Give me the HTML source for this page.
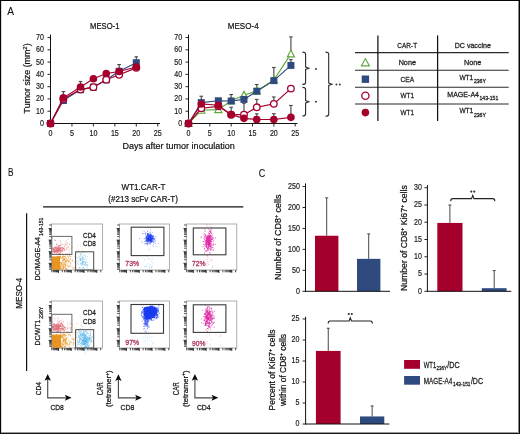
<!DOCTYPE html>
<html><head><meta charset="utf-8"><style>
html,body{margin:0;padding:0;background:#fff;}
svg{display:block;font-family:"Liberation Sans", sans-serif;will-change:transform;}
</style></head><body>
<svg width="520" height="434" viewBox="0 0 520 434">
<rect width="520" height="434" fill="#fff"/>
<g shape-rendering="crispEdges"><rect x="1" y="0" width="1" height="434" fill="#d8d8d8"/><rect x="518" y="0" width="1" height="434" fill="#8a8a8a"/><rect x="0" y="432" width="520" height="1" fill="#9a9a9a"/><rect x="0" y="0" width="520" height="1" fill="#050505"/><rect x="0" y="0" width="1" height="434" fill="#050505"/><rect x="519" y="0" width="1" height="434" fill="#050505"/><rect x="0" y="433" width="520" height="1" fill="#151515"/></g>
<text x="7.3" y="15.2" font-size="11" text-anchor="start" fill="#111" textLength="6.8" lengthAdjust="spacingAndGlyphs" stroke="#111" stroke-width="0.1">A</text>
<line x1="50.5" y1="34.6" x2="50.5" y2="124.0" stroke="#111" stroke-width="1"/>
<line x1="50.0" y1="123.5" x2="160" y2="123.5" stroke="#111" stroke-width="1"/>
<line x1="47.5" y1="123.5" x2="50.5" y2="123.5" stroke="#111" stroke-width="0.9"/>
<text x="44.0" y="125.9" font-size="8.6" text-anchor="end" fill="#222" textLength="3.95" lengthAdjust="spacingAndGlyphs" stroke="#222" stroke-width="0.2">0</text>
<line x1="47.5" y1="111.22" x2="50.5" y2="111.22" stroke="#111" stroke-width="0.9"/>
<text x="44.0" y="113.62" font-size="8.6" text-anchor="end" fill="#222" textLength="7.9" lengthAdjust="spacingAndGlyphs" stroke="#222" stroke-width="0.2">10</text>
<line x1="47.5" y1="98.94" x2="50.5" y2="98.94" stroke="#111" stroke-width="0.9"/>
<text x="44.0" y="101.34" font-size="8.6" text-anchor="end" fill="#222" textLength="7.9" lengthAdjust="spacingAndGlyphs" stroke="#222" stroke-width="0.2">20</text>
<line x1="47.5" y1="86.66" x2="50.5" y2="86.66" stroke="#111" stroke-width="0.9"/>
<text x="44.0" y="89.06" font-size="8.6" text-anchor="end" fill="#222" textLength="7.9" lengthAdjust="spacingAndGlyphs" stroke="#222" stroke-width="0.2">30</text>
<line x1="47.5" y1="74.38" x2="50.5" y2="74.38" stroke="#111" stroke-width="0.9"/>
<text x="44.0" y="76.78" font-size="8.6" text-anchor="end" fill="#222" textLength="7.9" lengthAdjust="spacingAndGlyphs" stroke="#222" stroke-width="0.2">40</text>
<line x1="47.5" y1="62.1" x2="50.5" y2="62.1" stroke="#111" stroke-width="0.9"/>
<text x="44.0" y="64.5" font-size="8.6" text-anchor="end" fill="#222" textLength="7.9" lengthAdjust="spacingAndGlyphs" stroke="#222" stroke-width="0.2">50</text>
<line x1="47.5" y1="49.82000000000001" x2="50.5" y2="49.82000000000001" stroke="#111" stroke-width="0.9"/>
<text x="44.0" y="52.220000000000006" font-size="8.6" text-anchor="end" fill="#222" textLength="7.9" lengthAdjust="spacingAndGlyphs" stroke="#222" stroke-width="0.2">60</text>
<line x1="47.5" y1="37.540000000000006" x2="50.5" y2="37.540000000000006" stroke="#111" stroke-width="0.9"/>
<text x="44.0" y="39.940000000000005" font-size="8.6" text-anchor="end" fill="#222" textLength="7.9" lengthAdjust="spacingAndGlyphs" stroke="#222" stroke-width="0.2">70</text>
<line x1="50.5" y1="123.5" x2="50.5" y2="126.5" stroke="#111" stroke-width="0.9"/>
<text x="50.5" y="136.4" font-size="8.6" text-anchor="middle" fill="#222" textLength="3.95" lengthAdjust="spacingAndGlyphs" stroke="#222" stroke-width="0.2">0</text>
<line x1="71.95" y1="123.5" x2="71.95" y2="126.5" stroke="#111" stroke-width="0.9"/>
<text x="71.95" y="136.4" font-size="8.6" text-anchor="middle" fill="#222" textLength="3.95" lengthAdjust="spacingAndGlyphs" stroke="#222" stroke-width="0.2">5</text>
<line x1="93.4" y1="123.5" x2="93.4" y2="126.5" stroke="#111" stroke-width="0.9"/>
<text x="93.4" y="136.4" font-size="8.6" text-anchor="middle" fill="#222" textLength="7.9" lengthAdjust="spacingAndGlyphs" stroke="#222" stroke-width="0.2">10</text>
<line x1="114.85" y1="123.5" x2="114.85" y2="126.5" stroke="#111" stroke-width="0.9"/>
<text x="114.85" y="136.4" font-size="8.6" text-anchor="middle" fill="#222" textLength="7.9" lengthAdjust="spacingAndGlyphs" stroke="#222" stroke-width="0.2">15</text>
<line x1="136.3" y1="123.5" x2="136.3" y2="126.5" stroke="#111" stroke-width="0.9"/>
<text x="136.3" y="136.4" font-size="8.6" text-anchor="middle" fill="#222" textLength="7.9" lengthAdjust="spacingAndGlyphs" stroke="#222" stroke-width="0.2">20</text>
<line x1="157.75" y1="123.5" x2="157.75" y2="126.5" stroke="#111" stroke-width="0.9"/>
<text x="157.75" y="136.4" font-size="8.6" text-anchor="middle" fill="#222" textLength="7.9" lengthAdjust="spacingAndGlyphs" stroke="#222" stroke-width="0.2">25</text>
<text x="104.75" y="28.7" font-size="8.6" text-anchor="middle" fill="#111" textLength="29.3" lengthAdjust="spacingAndGlyphs" stroke="#111" stroke-width="0.2">MESO-1</text>
<line x1="63.370000000000005" y1="98.94" x2="63.370000000000005" y2="91.572" stroke="#4a4a4a" stroke-width="1.15"/>
<line x1="61.57000000000001" y1="91.572" x2="65.17" y2="91.572" stroke="#4a4a4a" stroke-width="1.15"/>
<line x1="80.53" y1="87.888" x2="80.53" y2="81.5024" stroke="#4a4a4a" stroke-width="1.15"/>
<line x1="78.73" y1="81.5024" x2="82.33" y2="81.5024" stroke="#4a4a4a" stroke-width="1.15"/>
<line x1="119.14" y1="71.924" x2="119.14" y2="64.556" stroke="#4a4a4a" stroke-width="1.15"/>
<line x1="117.34" y1="64.556" x2="120.94" y2="64.556" stroke="#4a4a4a" stroke-width="1.15"/>
<line x1="136.3" y1="64.556" x2="136.3" y2="56.81960000000001" stroke="#4a4a4a" stroke-width="1.15"/>
<line x1="134.5" y1="56.81960000000001" x2="138.10000000000002" y2="56.81960000000001" stroke="#4a4a4a" stroke-width="1.15"/>
<polyline points="50.50,123.50 63.37,100.54 80.53,89.61 93.40,87.15 106.27,79.78 119.14,71.31 136.30,62.71" fill="none" stroke="#2e4a7f" stroke-width="1.15"/>
<rect x="47.00" y="120.00" width="7" height="7" fill="#2e4a7f"/>
<rect x="59.87" y="97.04" width="7" height="7" fill="#2e4a7f"/>
<rect x="77.03" y="86.11" width="7" height="7" fill="#2e4a7f"/>
<rect x="89.90" y="83.65" width="7" height="7" fill="#2e4a7f"/>
<rect x="102.77" y="76.28" width="7" height="7" fill="#2e4a7f"/>
<rect x="115.64" y="67.81" width="7" height="7" fill="#2e4a7f"/>
<rect x="132.80" y="59.21" width="7" height="7" fill="#2e4a7f"/>
<polyline points="50.50,123.50 63.37,98.94 80.53,89.61 93.40,87.15 106.27,79.66 119.14,74.75 136.30,67.87" fill="none" stroke="#a5002c" stroke-width="1.15"/>
<circle cx="50.50" cy="123.50" r="3.3" fill="#fff" stroke="#a5002c" stroke-width="1.3"/>
<circle cx="63.37" cy="98.94" r="3.3" fill="#fff" stroke="#a5002c" stroke-width="1.3"/>
<circle cx="80.53" cy="89.61" r="3.3" fill="#fff" stroke="#a5002c" stroke-width="1.3"/>
<circle cx="93.40" cy="87.15" r="3.3" fill="#fff" stroke="#a5002c" stroke-width="1.3"/>
<circle cx="106.27" cy="79.66" r="3.3" fill="#fff" stroke="#a5002c" stroke-width="1.3"/>
<circle cx="119.14" cy="74.75" r="3.3" fill="#fff" stroke="#a5002c" stroke-width="1.3"/>
<circle cx="136.30" cy="67.87" r="3.3" fill="#fff" stroke="#a5002c" stroke-width="1.3"/>
<polyline points="50.50,123.50 63.37,97.83 80.53,87.03 93.40,78.80 106.27,73.52 119.14,71.56 136.30,67.01" fill="none" stroke="#a5002c" stroke-width="1.15"/>
<circle cx="50.50" cy="123.50" r="3.8" fill="#a5002c"/>
<circle cx="63.37" cy="97.83" r="3.8" fill="#a5002c"/>
<circle cx="80.53" cy="87.03" r="3.8" fill="#a5002c"/>
<circle cx="93.40" cy="78.80" r="3.8" fill="#a5002c"/>
<circle cx="106.27" cy="73.52" r="3.8" fill="#a5002c"/>
<circle cx="119.14" cy="71.56" r="3.8" fill="#a5002c"/>
<circle cx="136.30" cy="67.01" r="3.8" fill="#a5002c"/>
<line x1="188.5" y1="34.6" x2="188.5" y2="124.0" stroke="#111" stroke-width="1"/>
<line x1="188.0" y1="123.5" x2="297.5" y2="123.5" stroke="#111" stroke-width="1"/>
<line x1="185.5" y1="123.5" x2="188.5" y2="123.5" stroke="#111" stroke-width="0.9"/>
<text x="182.1" y="125.9" font-size="8.6" text-anchor="end" fill="#222" textLength="3.95" lengthAdjust="spacingAndGlyphs" stroke="#222" stroke-width="0.2">0</text>
<line x1="185.5" y1="111.22" x2="188.5" y2="111.22" stroke="#111" stroke-width="0.9"/>
<text x="182.1" y="113.62" font-size="8.6" text-anchor="end" fill="#222" textLength="7.9" lengthAdjust="spacingAndGlyphs" stroke="#222" stroke-width="0.2">10</text>
<line x1="185.5" y1="98.94" x2="188.5" y2="98.94" stroke="#111" stroke-width="0.9"/>
<text x="182.1" y="101.34" font-size="8.6" text-anchor="end" fill="#222" textLength="7.9" lengthAdjust="spacingAndGlyphs" stroke="#222" stroke-width="0.2">20</text>
<line x1="185.5" y1="86.66" x2="188.5" y2="86.66" stroke="#111" stroke-width="0.9"/>
<text x="182.1" y="89.06" font-size="8.6" text-anchor="end" fill="#222" textLength="7.9" lengthAdjust="spacingAndGlyphs" stroke="#222" stroke-width="0.2">30</text>
<line x1="185.5" y1="74.38" x2="188.5" y2="74.38" stroke="#111" stroke-width="0.9"/>
<text x="182.1" y="76.78" font-size="8.6" text-anchor="end" fill="#222" textLength="7.9" lengthAdjust="spacingAndGlyphs" stroke="#222" stroke-width="0.2">40</text>
<line x1="185.5" y1="62.1" x2="188.5" y2="62.1" stroke="#111" stroke-width="0.9"/>
<text x="182.1" y="64.5" font-size="8.6" text-anchor="end" fill="#222" textLength="7.9" lengthAdjust="spacingAndGlyphs" stroke="#222" stroke-width="0.2">50</text>
<line x1="185.5" y1="49.82000000000001" x2="188.5" y2="49.82000000000001" stroke="#111" stroke-width="0.9"/>
<text x="182.1" y="52.220000000000006" font-size="8.6" text-anchor="end" fill="#222" textLength="7.9" lengthAdjust="spacingAndGlyphs" stroke="#222" stroke-width="0.2">60</text>
<line x1="185.5" y1="37.540000000000006" x2="188.5" y2="37.540000000000006" stroke="#111" stroke-width="0.9"/>
<text x="182.1" y="39.940000000000005" font-size="8.6" text-anchor="end" fill="#222" textLength="7.9" lengthAdjust="spacingAndGlyphs" stroke="#222" stroke-width="0.2">70</text>
<line x1="188.5" y1="123.5" x2="188.5" y2="126.5" stroke="#111" stroke-width="0.9"/>
<text x="188.5" y="136.4" font-size="8.6" text-anchor="middle" fill="#222" textLength="3.95" lengthAdjust="spacingAndGlyphs" stroke="#222" stroke-width="0.2">0</text>
<line x1="209.835" y1="123.5" x2="209.835" y2="126.5" stroke="#111" stroke-width="0.9"/>
<text x="209.835" y="136.4" font-size="8.6" text-anchor="middle" fill="#222" textLength="3.95" lengthAdjust="spacingAndGlyphs" stroke="#222" stroke-width="0.2">5</text>
<line x1="231.17000000000002" y1="123.5" x2="231.17000000000002" y2="126.5" stroke="#111" stroke-width="0.9"/>
<text x="231.17000000000002" y="136.4" font-size="8.6" text-anchor="middle" fill="#222" textLength="7.9" lengthAdjust="spacingAndGlyphs" stroke="#222" stroke-width="0.2">10</text>
<line x1="252.505" y1="123.5" x2="252.505" y2="126.5" stroke="#111" stroke-width="0.9"/>
<text x="252.505" y="136.4" font-size="8.6" text-anchor="middle" fill="#222" textLength="7.9" lengthAdjust="spacingAndGlyphs" stroke="#222" stroke-width="0.2">15</text>
<line x1="273.84000000000003" y1="123.5" x2="273.84000000000003" y2="126.5" stroke="#111" stroke-width="0.9"/>
<text x="273.84000000000003" y="136.4" font-size="8.6" text-anchor="middle" fill="#222" textLength="7.9" lengthAdjust="spacingAndGlyphs" stroke="#222" stroke-width="0.2">20</text>
<line x1="295.175" y1="123.5" x2="295.175" y2="126.5" stroke="#111" stroke-width="0.9"/>
<text x="295.175" y="136.4" font-size="8.6" text-anchor="middle" fill="#222" textLength="7.9" lengthAdjust="spacingAndGlyphs" stroke="#222" stroke-width="0.2">25</text>
<text x="243.2" y="28.7" font-size="8.6" text-anchor="middle" fill="#111" textLength="30.8" lengthAdjust="spacingAndGlyphs" stroke="#111" stroke-width="0.2">MESO-4</text>
<line x1="201.301" y1="102.624" x2="201.301" y2="96.2384" stroke="#4a4a4a" stroke-width="1.15"/>
<line x1="199.50099999999998" y1="96.2384" x2="203.101" y2="96.2384" stroke="#4a4a4a" stroke-width="1.15"/>
<line x1="231.17000000000002" y1="101.0276" x2="231.17000000000002" y2="94.5192" stroke="#4a4a4a" stroke-width="1.15"/>
<line x1="229.37" y1="94.5192" x2="232.97000000000003" y2="94.5192" stroke="#4a4a4a" stroke-width="1.15"/>
<line x1="231.17000000000002" y1="114.6584" x2="231.17000000000002" y2="107.2904" stroke="#4a4a4a" stroke-width="1.15"/>
<line x1="229.37" y1="107.2904" x2="232.97000000000003" y2="107.2904" stroke="#4a4a4a" stroke-width="1.15"/>
<line x1="243.971" y1="114.6584" x2="243.971" y2="103.238" stroke="#4a4a4a" stroke-width="1.15"/>
<line x1="242.171" y1="103.238" x2="245.77100000000002" y2="103.238" stroke="#4a4a4a" stroke-width="1.15"/>
<line x1="256.772" y1="91.2036" x2="256.772" y2="84.5724" stroke="#4a4a4a" stroke-width="1.15"/>
<line x1="254.97199999999998" y1="84.5724" x2="258.572" y2="84.5724" stroke="#4a4a4a" stroke-width="1.15"/>
<line x1="256.772" y1="107.2904" x2="256.772" y2="99.43119999999999" stroke="#4a4a4a" stroke-width="1.15"/>
<line x1="254.97199999999998" y1="99.43119999999999" x2="258.572" y2="99.43119999999999" stroke="#4a4a4a" stroke-width="1.15"/>
<line x1="256.772" y1="119.4476" x2="256.772" y2="113.7988" stroke="#4a4a4a" stroke-width="1.15"/>
<line x1="254.97199999999998" y1="113.7988" x2="258.572" y2="113.7988" stroke="#4a4a4a" stroke-width="1.15"/>
<line x1="273.84000000000003" y1="80.52000000000001" x2="273.84000000000003" y2="67.50319999999999" stroke="#4a4a4a" stroke-width="1.15"/>
<line x1="272.04" y1="67.50319999999999" x2="275.64000000000004" y2="67.50319999999999" stroke="#4a4a4a" stroke-width="1.15"/>
<line x1="273.84000000000003" y1="103.852" x2="273.84000000000003" y2="96.9752" stroke="#4a4a4a" stroke-width="1.15"/>
<line x1="272.04" y1="96.9752" x2="275.64000000000004" y2="96.9752" stroke="#4a4a4a" stroke-width="1.15"/>
<line x1="273.84000000000003" y1="119.4476" x2="273.84000000000003" y2="113.676" stroke="#4a4a4a" stroke-width="1.15"/>
<line x1="272.04" y1="113.676" x2="275.64000000000004" y2="113.676" stroke="#4a4a4a" stroke-width="1.15"/>
<line x1="290.908" y1="53.8724" x2="290.908" y2="36.926" stroke="#4a4a4a" stroke-width="1.15"/>
<line x1="289.108" y1="36.926" x2="292.708" y2="36.926" stroke="#4a4a4a" stroke-width="1.15"/>
<line x1="290.908" y1="65.17" x2="290.908" y2="59.644" stroke="#4a4a4a" stroke-width="1.15"/>
<line x1="289.108" y1="59.644" x2="292.708" y2="59.644" stroke="#4a4a4a" stroke-width="1.15"/>
<line x1="290.908" y1="117.36" x2="290.908" y2="105.44839999999999" stroke="#4a4a4a" stroke-width="1.15"/>
<line x1="289.108" y1="105.44839999999999" x2="292.708" y2="105.44839999999999" stroke="#4a4a4a" stroke-width="1.15"/>
<polyline points="188.50,123.50 201.30,110.24 218.37,109.62 231.17,100.78 243.97,95.26 256.77,90.96 273.84,80.03 290.91,53.87" fill="none" stroke="#5fa83a" stroke-width="1.15"/>
<polygon points="188.50,119.60 192.10,126.50 184.90,126.50" fill="#fff" stroke="#5fa83a" stroke-width="1.15"/>
<polygon points="201.30,106.34 204.90,113.24 197.70,113.24" fill="#fff" stroke="#5fa83a" stroke-width="1.15"/>
<polygon points="218.37,105.72 221.97,112.62 214.77,112.62" fill="#fff" stroke="#5fa83a" stroke-width="1.15"/>
<polygon points="231.17,96.88 234.77,103.78 227.57,103.78" fill="#fff" stroke="#5fa83a" stroke-width="1.15"/>
<polygon points="243.97,91.36 247.57,98.26 240.37,98.26" fill="#fff" stroke="#5fa83a" stroke-width="1.15"/>
<polygon points="256.77,87.06 260.37,93.96 253.17,93.96" fill="#fff" stroke="#5fa83a" stroke-width="1.15"/>
<polygon points="273.84,76.13 277.44,83.03 270.24,83.03" fill="#fff" stroke="#5fa83a" stroke-width="1.15"/>
<polygon points="290.91,49.97 294.51,56.87 287.31,56.87" fill="#fff" stroke="#5fa83a" stroke-width="1.15"/>
<polyline points="188.50,123.50 201.30,102.62 218.37,100.78 231.17,101.03 243.97,99.43 256.77,91.20 273.84,80.64 290.91,65.42" fill="none" stroke="#2e4a7f" stroke-width="1.15"/>
<rect x="185.00" y="120.00" width="7" height="7" fill="#2e4a7f"/>
<rect x="197.80" y="99.12" width="7" height="7" fill="#2e4a7f"/>
<rect x="214.87" y="97.28" width="7" height="7" fill="#2e4a7f"/>
<rect x="227.67" y="97.53" width="7" height="7" fill="#2e4a7f"/>
<rect x="240.47" y="95.93" width="7" height="7" fill="#2e4a7f"/>
<rect x="253.27" y="87.70" width="7" height="7" fill="#2e4a7f"/>
<rect x="270.34" y="77.14" width="7" height="7" fill="#2e4a7f"/>
<rect x="287.41" y="61.92" width="7" height="7" fill="#2e4a7f"/>
<polyline points="188.50,123.50 201.30,108.27 218.37,106.31 231.17,114.66 243.97,114.66 256.77,107.29 273.84,103.85 290.91,88.62" fill="none" stroke="#a5002c" stroke-width="1.15"/>
<circle cx="188.50" cy="123.50" r="3.3" fill="#fff" stroke="#a5002c" stroke-width="1.3"/>
<circle cx="201.30" cy="108.27" r="3.3" fill="#fff" stroke="#a5002c" stroke-width="1.3"/>
<circle cx="218.37" cy="106.31" r="3.3" fill="#fff" stroke="#a5002c" stroke-width="1.3"/>
<circle cx="231.17" cy="114.66" r="3.3" fill="#fff" stroke="#a5002c" stroke-width="1.3"/>
<circle cx="243.97" cy="114.66" r="3.3" fill="#fff" stroke="#a5002c" stroke-width="1.3"/>
<circle cx="256.77" cy="107.29" r="3.3" fill="#fff" stroke="#a5002c" stroke-width="1.3"/>
<circle cx="273.84" cy="103.85" r="3.3" fill="#fff" stroke="#a5002c" stroke-width="1.3"/>
<circle cx="290.91" cy="88.62" r="3.3" fill="#fff" stroke="#a5002c" stroke-width="1.3"/>
<polyline points="188.50,123.50 201.30,103.97 218.37,105.20 231.17,114.66 243.97,118.34 256.77,119.45 273.84,119.45 290.91,117.36" fill="none" stroke="#a5002c" stroke-width="1.15"/>
<circle cx="188.50" cy="123.50" r="3.8" fill="#a5002c"/>
<circle cx="201.30" cy="103.97" r="3.8" fill="#a5002c"/>
<circle cx="218.37" cy="105.20" r="3.8" fill="#a5002c"/>
<circle cx="231.17" cy="114.66" r="3.8" fill="#a5002c"/>
<circle cx="243.97" cy="118.34" r="3.8" fill="#a5002c"/>
<circle cx="256.77" cy="119.45" r="3.8" fill="#a5002c"/>
<circle cx="273.84" cy="119.45" r="3.8" fill="#a5002c"/>
<circle cx="290.91" cy="117.36" r="3.8" fill="#a5002c"/>
<text x="178.6" y="149.2" font-size="9.3" text-anchor="middle" fill="#111" textLength="112.3" lengthAdjust="spacingAndGlyphs" stroke="#111" stroke-width="0.2">Days after tumor inoculation</text>
<text transform="translate(30.2,78.4) rotate(-90)" font-size="9.4" text-anchor="middle" fill="#111" stroke="#111" stroke-width="0.2" textLength="70" lengthAdjust="spacingAndGlyphs">Tumor size (mm<tspan dy="-3.3" font-size="6.2">2</tspan><tspan dy="3.3">)</tspan></text>
<path d="M302.40000000000003,52.1 Q305.6,52.1 305.6,54.1 V67.05 L308.8,68.25 L305.6,69.45 V82.4 Q305.6,84.4 302.40000000000003,84.4" fill="none" stroke="#2a2a2a" stroke-width="1.1"/>
<path d="M302.40000000000003,87.4 Q305.6,87.4 305.6,89.4 V100.5 L308.8,101.7 L305.6,102.9 V114.0 Q305.6,116.0 302.40000000000003,116.0" fill="none" stroke="#2a2a2a" stroke-width="1.1"/>
<path d="M325.5,52.1 Q328.7,52.1 328.7,54.1 V83.0 L331.9,84.2 L328.7,85.4 V114.3 Q328.7,116.3 325.5,116.3" fill="none" stroke="#2a2a2a" stroke-width="1.1"/>
<circle cx="315.9" cy="69" r="0.95" fill="#333"/>
<circle cx="315.9" cy="101.8" r="0.95" fill="#333"/>
<circle cx="336.4" cy="84.5" r="0.95" fill="#333"/>
<circle cx="339.8" cy="84.5" r="0.95" fill="#333"/>
<line x1="355" y1="52.6" x2="508.7" y2="52.6" stroke="#2a2a2a" stroke-width="1.1"/>
<line x1="355" y1="70.3" x2="508.7" y2="70.3" stroke="#2a2a2a" stroke-width="1.1"/>
<line x1="355" y1="87.2" x2="508.7" y2="87.2" stroke="#2a2a2a" stroke-width="1.1"/>
<line x1="355" y1="104.0" x2="508.7" y2="104.0" stroke="#2a2a2a" stroke-width="1.1"/>
<line x1="377.9" y1="35.4" x2="377.9" y2="121" stroke="#111" stroke-width="1.25"/>
<line x1="437.6" y1="35.4" x2="437.6" y2="121" stroke="#111" stroke-width="1.25"/>
<text x="407.2" y="48.0" font-size="7.5" text-anchor="middle" fill="#222" textLength="19.8" lengthAdjust="spacingAndGlyphs" stroke="#222" stroke-width="0.26">CAR-T</text>
<text x="472.8" y="48.0" font-size="7.5" text-anchor="middle" fill="#222" textLength="36.2" lengthAdjust="spacingAndGlyphs" stroke="#222" stroke-width="0.26">DC vaccine</text>
<text x="407.3" y="64.6" font-size="7.5" text-anchor="middle" fill="#222" textLength="17.3" lengthAdjust="spacingAndGlyphs" stroke="#222" stroke-width="0.26">None</text>
<text x="407.3" y="81.5" font-size="7.5" text-anchor="middle" fill="#222" textLength="13.6" lengthAdjust="spacingAndGlyphs" stroke="#222" stroke-width="0.26">CEA</text>
<text x="407.3" y="98.3" font-size="7.5" text-anchor="middle" fill="#222" textLength="13.4" lengthAdjust="spacingAndGlyphs" stroke="#222" stroke-width="0.26">WT1</text>
<text x="407.3" y="115.0" font-size="7.5" text-anchor="middle" fill="#222" textLength="13.4" lengthAdjust="spacingAndGlyphs" stroke="#222" stroke-width="0.26">WT1</text>
<text x="472.6" y="64.6" font-size="7.5" text-anchor="middle" fill="#222" textLength="17.3" lengthAdjust="spacingAndGlyphs" stroke="#222" stroke-width="0.26">None</text>
<text x="459.4" y="79.9" font-size="7.5" text-anchor="start" fill="#222" textLength="13.9" lengthAdjust="spacingAndGlyphs" stroke="#222" stroke-width="0.26">WT1</text>
<text x="473.9" y="83.0" font-size="5.4" text-anchor="start" fill="#222" textLength="12.0" lengthAdjust="spacingAndGlyphs" stroke="#222" stroke-width="0.26">236Y</text>
<text x="447.3" y="96.9" font-size="7.5" text-anchor="start" fill="#222" textLength="31.7" lengthAdjust="spacingAndGlyphs" stroke="#222" stroke-width="0.26">MAGE-A4</text>
<text x="479.5" y="100.0" font-size="5.4" text-anchor="start" fill="#222" textLength="18.8" lengthAdjust="spacingAndGlyphs" stroke="#222" stroke-width="0.26">143-151</text>
<text x="459.4" y="113.4" font-size="7.5" text-anchor="start" fill="#222" textLength="13.9" lengthAdjust="spacingAndGlyphs" stroke="#222" stroke-width="0.26">WT1</text>
<text x="473.9" y="116.5" font-size="5.4" text-anchor="start" fill="#222" textLength="12.0" lengthAdjust="spacingAndGlyphs" stroke="#222" stroke-width="0.26">236Y</text>
<polygon points="365.4,58.6 369.4,65.9 361.4,65.9" fill="#fff" stroke="#5fa83a" stroke-width="1.1"/>
<rect x="361.7" y="75.5" width="7.4" height="7.4" fill="#2e4a7f"/>
<circle cx="365.4" cy="95.8" r="3.6" fill="#fff" stroke="#a5002c" stroke-width="1.3"/>
<circle cx="365.4" cy="112.6" r="3.8" fill="#a5002c"/>
<text x="8.0" y="176.1" font-size="11" text-anchor="start" fill="#111" textLength="5.5" lengthAdjust="spacingAndGlyphs" stroke="#111" stroke-width="0.1">B</text>
<text x="143.5" y="190" font-size="8.6" text-anchor="middle" fill="#111" textLength="43.8" lengthAdjust="spacingAndGlyphs" stroke="#111" stroke-width="0.2">WT1.CAR-T</text>
<text x="143.1" y="201.6" font-size="8.6" text-anchor="middle" fill="#111" textLength="69.6" lengthAdjust="spacingAndGlyphs" stroke="#111" stroke-width="0.2">(#213 scFv CAR-T)</text>
<line x1="43.1" y1="206.8" x2="243.3" y2="206.8" stroke="#111" stroke-width="1.2"/>
<line x1="26.6" y1="213.3" x2="26.6" y2="370.9" stroke="#111" stroke-width="1.2"/>
<text transform="translate(22,293.2) rotate(-90)" x="0" y="0" font-size="8.8" text-anchor="middle" fill="#111" textLength="31" lengthAdjust="spacingAndGlyphs" stroke="#111" stroke-width="0.2">MESO-4</text>
<text transform="translate(39.6,280.6) rotate(-90)" x="0" y="0" font-size="7.7" text-anchor="start" fill="#222" textLength="43.6" lengthAdjust="spacingAndGlyphs" stroke="#222" stroke-width="0.26">DC/MAGE-A4</text>
<text transform="translate(42.9,236.00000000000003) rotate(-90)" x="0" y="0" font-size="5.4" text-anchor="start" fill="#222" textLength="18.4" lengthAdjust="spacingAndGlyphs" stroke="#222" stroke-width="0.26">143-151</text>
<text transform="translate(39.8,345.4) rotate(-90)" x="0" y="0" font-size="7.7" text-anchor="start" fill="#222" textLength="25.6" lengthAdjust="spacingAndGlyphs" stroke="#222" stroke-width="0.26">DC/WT1</text>
<text transform="translate(43.099999999999994,318.79999999999995) rotate(-90)" x="0" y="0" font-size="5.4" text-anchor="start" fill="#222" textLength="12.1" lengthAdjust="spacingAndGlyphs" stroke="#222" stroke-width="0.26">236Y</text>
<rect x="51.8" y="256.6" width="8.2" height="13.4" fill="#e8941f" opacity="0.95"/>
<path d="M54.4,268.6h1.0M59.3,269.4h1.0M57.4,265.8h1.0M52.0,263.8h1.0M51.9,264.9h1.0M52.1,269.2h1.0M55.7,258.9h1.0M52.4,267.7h1.0M58.9,256.9h1.0M58.0,265.4h1.0M65.5,269.6h1.0M63.1,266.8h1.0M52.6,268.9h1.0M54.2,259.0h1.0M52.9,262.7h1.0M59.1,265.7h1.0M57.6,269.5h1.0M52.0,267.9h1.0M59.8,264.9h1.0M54.3,262.6h1.0M56.1,266.7h1.0M61.9,260.9h1.0M53.5,262.8h1.0M57.2,258.1h1.0M60.6,266.9h1.0M65.6,268.9h1.0M55.6,260.0h1.0M52.6,264.1h1.0M51.9,261.4h1.0M61.3,262.8h1.0M63.4,266.5h1.0M60.0,262.5h1.0M58.1,264.5h1.0M62.7,256.9h1.0M56.4,261.4h1.0M52.0,260.9h1.0M59.2,256.1h1.0M62.4,266.9h1.0M55.2,261.4h1.0M51.8,264.5h1.0M52.8,268.9h1.0M52.0,259.8h1.0M52.5,267.4h1.0M55.3,258.1h1.0M52.1,264.6h1.0M57.6,257.9h1.0M62.3,258.3h1.0M53.9,265.1h1.0M54.9,257.9h1.0M65.1,268.6h1.0M52.9,267.6h1.0M53.4,264.1h1.0M58.2,267.2h1.0M51.8,265.1h1.0M55.0,262.9h1.0M65.0,261.0h1.0M57.1,262.1h1.0M59.7,269.6h1.0M63.9,259.6h1.0M63.4,259.3h1.0M55.3,265.4h1.0M52.3,261.9h1.0M52.0,269.5h1.0M53.2,268.4h1.0M54.6,269.6h1.0M51.8,268.5h1.0M52.3,265.8h1.0M51.9,258.1h1.0M58.6,268.6h1.0M53.6,266.1h1.0M54.9,268.9h1.0M62.9,256.1h1.0M56.3,264.1h1.0M52.2,269.1h1.0M54.6,267.2h1.0M62.5,268.4h1.0M51.8,256.8h1.0M57.3,268.6h1.0M57.5,269.8h1.0M57.2,256.4h1.0M63.2,260.9h1.0M53.7,265.8h1.0M52.8,259.7h1.0M57.3,259.6h1.0M54.5,267.7h1.0M62.2,256.3h1.0M63.0,259.2h1.0M62.3,260.2h1.0M53.3,263.6h1.0M54.8,269.8h1.0M51.9,267.0h1.0M53.7,261.0h1.0M65.1,264.7h1.0M64.7,256.2h1.0M65.1,265.8h1.0M53.3,267.6h1.0M53.0,267.9h1.0M58.8,257.7h1.0M62.7,264.2h1.0M59.3,259.3h1.0M52.2,261.5h1.0M64.1,259.6h1.0M61.0,264.2h1.0M52.9,259.5h1.0M54.5,259.3h1.0M65.4,265.4h1.0M55.4,256.9h1.0M60.6,268.3h1.0M52.4,268.5h1.0M64.0,259.2h1.0M52.6,258.9h1.0M65.6,261.5h1.0M54.7,263.2h1.0M52.5,269.9h1.0M65.4,261.7h1.0M57.2,257.1h1.0M55.9,258.1h1.0M62.5,267.8h1.0M53.6,266.8h1.0M53.5,262.6h1.0M53.7,265.1h1.0M52.5,257.5h1.0M54.8,264.5h1.0M58.1,257.6h1.0M55.7,257.4h1.0M56.8,263.4h1.0M57.2,269.9h1.0M55.9,268.2h1.0M51.8,259.3h1.0M52.8,264.3h1.0M60.6,263.1h1.0M54.4,263.6h1.0M57.7,259.5h1.0M52.3,263.0h1.0M53.6,267.0h1.0M61.4,263.8h1.0M57.8,259.9h1.0M64.2,264.7h1.0M58.6,263.8h1.0M57.0,261.0h1.0M56.1,263.4h1.0M56.5,257.0h1.0M60.1,258.0h1.0M64.8,267.2h1.0M57.7,256.9h1.0M62.7,268.7h1.0M52.4,264.7h1.0M52.1,267.5h1.0M52.1,261.4h1.0M61.7,257.7h1.0M52.7,260.6h1.0M59.4,268.6h1.0M63.6,256.5h1.0M53.3,256.8h1.0M55.4,264.1h1.0M65.8,258.8h1.0M52.7,264.9h1.0M57.1,266.2h1.0M53.0,266.5h1.0M60.5,269.9h1.0" stroke="#e8941f" stroke-width="1.0" opacity="0.85" fill="none"/>
<path d="M64.6,263.8h0.9M58.0,265.4h0.9M66.0,262.8h0.9M58.2,256.2h0.9M69.6,256.4h0.9M58.5,266.3h0.9M58.1,259.1h0.9M60.1,268.2h0.9M62.3,257.2h0.9M70.4,266.4h0.9M58.8,257.1h0.9M64.9,260.2h0.9M58.4,269.2h0.9M67.3,264.0h0.9M58.3,256.9h0.9M66.2,258.8h0.9M58.3,258.0h0.9M58.2,257.9h0.9M62.8,265.3h0.9M64.6,257.0h0.9M60.1,268.2h0.9M64.1,266.7h0.9M58.5,267.7h0.9M58.1,267.2h0.9M60.6,265.7h0.9M68.9,265.9h0.9M63.6,267.5h0.9M61.1,269.7h0.9M59.9,269.8h0.9M68.3,262.3h0.9M59.2,263.4h0.9M73.3,268.5h0.9M70.3,263.9h0.9M63.5,258.3h0.9M61.8,262.9h0.9M67.3,256.2h0.9M61.1,258.3h0.9M67.8,261.1h0.9M62.0,265.1h0.9M58.2,268.2h0.9M58.2,259.6h0.9M59.9,267.7h0.9M58.3,258.2h0.9M71.6,260.6h0.9M60.2,266.6h0.9M60.4,263.6h0.9M58.9,263.8h0.9M60.0,256.5h0.9M74.3,262.3h0.9M59.8,256.5h0.9M60.6,265.0h0.9M58.0,264.7h0.9M63.2,263.0h0.9M59.3,262.9h0.9M58.0,266.3h0.9M58.4,264.4h0.9M58.1,269.7h0.9M60.5,266.7h0.9M65.2,262.6h0.9M68.7,260.8h0.9M68.0,257.7h0.9M61.8,265.4h0.9M74.6,267.9h0.9M68.1,261.0h0.9M58.1,258.3h0.9M72.2,261.2h0.9M68.4,258.6h0.9M58.7,262.7h0.9M63.7,258.3h0.9M70.0,258.4h0.9M65.2,257.5h0.9M67.2,260.3h0.9M59.6,269.6h0.9M58.7,265.0h0.9M58.5,258.3h0.9M64.7,261.2h0.9M66.0,260.5h0.9M63.4,270.0h0.9M69.8,259.5h0.9M63.7,262.5h0.9M66.7,269.1h0.9M68.4,266.5h0.9M58.3,266.3h0.9M68.3,267.1h0.9M68.5,256.3h0.9M63.5,264.6h0.9M63.2,260.4h0.9M69.1,261.4h0.9M66.4,268.9h0.9M58.8,266.4h0.9M68.6,265.7h0.9M64.9,269.8h0.9M58.2,266.2h0.9M67.0,260.3h0.9M67.1,265.9h0.9M63.9,263.5h0.9M63.0,268.3h0.9M72.2,267.2h0.9M74.4,256.9h0.9M58.0,263.6h0.9M70.4,256.4h0.9M62.7,266.2h0.9M59.4,256.8h0.9M59.4,261.9h0.9M58.7,262.7h0.9M73.7,268.1h0.9M70.4,262.9h0.9M72.0,260.2h0.9M59.6,257.4h0.9M63.4,269.7h0.9" stroke="#e8941f" stroke-width="0.9" opacity="0.75" fill="none"/>
<path d="M60.1,250.4h0.8M70.8,248.3h0.8M63.4,248.8h0.8M67.6,254.2h0.8M60.0,253.3h0.8M80.1,246.3h0.8M82.2,252.8h0.8M81.6,248.2h0.8M68.9,249.3h0.8M84.0,251.5h0.8M68.7,249.7h0.8M66.6,245.5h0.8M62.4,254.2h0.8M66.9,255.3h0.8M66.0,247.9h0.8M72.3,247.1h0.8M69.0,255.5h0.8M81.2,253.9h0.8M75.1,255.0h0.8M82.6,251.0h0.8M77.3,245.5h0.8M77.6,250.0h0.8" stroke="#e8941f" stroke-width="0.8" opacity="0.6" fill="none"/>
<path d="M56.6,245.8h0.9M56.2,250.3h0.9M58.6,248.9h0.9M52.4,249.9h0.9M54.3,253.6h0.9M60.0,249.2h0.9M54.4,247.7h0.9M52.3,248.6h0.9M57.8,250.8h0.9M53.3,249.5h0.9M69.1,244.6h0.9M54.2,249.9h0.9M57.2,250.6h0.9M55.4,250.5h0.9M56.7,251.5h0.9M56.5,246.8h0.9M53.6,251.2h0.9M59.9,250.3h0.9M58.8,249.2h0.9M58.5,248.1h0.9M56.1,251.4h0.9M52.5,251.2h0.9M64.9,248.1h0.9M57.2,249.1h0.9M63.4,250.3h0.9M60.5,247.7h0.9M56.4,249.5h0.9M60.5,245.0h0.9M59.8,249.2h0.9M58.5,250.5h0.9M63.2,248.0h0.9M64.1,250.6h0.9M54.2,247.7h0.9M58.9,250.9h0.9M57.8,250.1h0.9M54.1,250.7h0.9M56.0,249.3h0.9M54.9,252.2h0.9M62.8,248.5h0.9M60.3,247.5h0.9M56.8,251.4h0.9M63.3,248.5h0.9M56.2,250.0h0.9M53.5,250.5h0.9M56.7,250.2h0.9M54.0,251.8h0.9M55.3,247.9h0.9M58.6,245.4h0.9M53.5,249.4h0.9M60.3,249.1h0.9M57.9,247.8h0.9M57.9,253.8h0.9M53.6,249.5h0.9M57.3,252.2h0.9M59.2,251.6h0.9M57.4,250.2h0.9M60.7,250.5h0.9M64.0,246.3h0.9M54.8,240.5h0.9M60.2,248.5h0.9M56.5,248.8h0.9M54.3,247.3h0.9M53.7,251.2h0.9M56.7,249.7h0.9M55.7,251.9h0.9M58.7,249.1h0.9M59.5,249.1h0.9M58.6,247.0h0.9M61.4,250.4h0.9M58.0,251.8h0.9M57.4,249.1h0.9M56.6,248.8h0.9M58.1,249.7h0.9M59.5,248.5h0.9M56.3,243.9h0.9M54.6,251.3h0.9M62.5,248.6h0.9M56.0,253.6h0.9M55.0,251.4h0.9M64.1,249.6h0.9M62.0,247.7h0.9M57.4,249.3h0.9M57.0,252.4h0.9M67.3,247.8h0.9M53.9,250.8h0.9M59.1,248.8h0.9M58.9,245.5h0.9M59.9,245.5h0.9M53.4,248.1h0.9M54.7,251.7h0.9M56.9,248.5h0.9M58.9,253.6h0.9M56.5,250.5h0.9M62.1,250.2h0.9M66.4,244.3h0.9M56.3,250.6h0.9M60.8,251.2h0.9M55.3,246.8h0.9M57.0,252.2h0.9M56.4,244.5h0.9M55.3,248.4h0.9M58.5,247.7h0.9M52.5,248.5h0.9M56.3,247.8h0.9M56.6,251.5h0.9M61.8,253.9h0.9M53.0,248.4h0.9M53.2,249.4h0.9M58.9,246.0h0.9M58.6,249.4h0.9M61.9,244.6h0.9M60.1,250.0h0.9M58.6,250.6h0.9M62.4,248.9h0.9M60.4,248.4h0.9M59.8,247.4h0.9M58.5,249.1h0.9M57.4,251.9h0.9M58.4,250.9h0.9M56.3,253.0h0.9M54.7,248.1h0.9M60.5,249.7h0.9M55.2,248.0h0.9M55.3,251.1h0.9M58.1,246.4h0.9M58.4,250.0h0.9M55.2,248.6h0.9M60.1,252.9h0.9M53.4,250.6h0.9M54.3,252.6h0.9M53.6,251.6h0.9M66.5,242.9h0.9M54.5,250.8h0.9M56.1,247.8h0.9M66.2,249.7h0.9M53.9,249.9h0.9M62.2,249.8h0.9M61.8,251.4h0.9M52.8,251.7h0.9M58.7,251.2h0.9M60.6,251.4h0.9M60.5,243.1h0.9M57.3,250.8h0.9M68.0,247.0h0.9M55.0,249.6h0.9M60.5,248.3h0.9M61.7,247.5h0.9M57.7,248.1h0.9M57.2,247.7h0.9M57.9,248.0h0.9" stroke="#e0707a" stroke-width="0.9" opacity="0.85" fill="none"/>
<path d="M54.8,251.1h0.8M60.2,251.3h0.8M53.4,252.8h0.8M64.6,241.7h0.8M52.5,248.7h0.8M65.3,254.0h0.8M67.1,253.7h0.8M61.9,248.9h0.8M62.4,252.2h0.8M58.3,248.3h0.8M58.4,246.9h0.8M58.8,250.6h0.8M52.3,247.7h0.8M59.6,252.9h0.8M65.4,244.4h0.8M59.0,253.3h0.8M59.3,253.7h0.8M53.5,250.7h0.8M53.0,250.6h0.8M60.0,254.0h0.8M62.6,253.8h0.8M64.8,244.5h0.8M60.1,253.9h0.8M59.9,251.4h0.8M69.8,253.6h0.8M67.6,239.1h0.8M64.7,243.6h0.8M54.4,239.5h0.8M59.7,240.2h0.8M69.0,253.4h0.8M66.0,240.8h0.8M52.7,251.7h0.8M65.3,253.5h0.8M68.5,252.5h0.8M66.6,253.5h0.8M59.9,241.1h0.8M54.6,252.6h0.8M60.0,252.1h0.8M52.5,253.3h0.8M54.0,240.7h0.8" stroke="#e0707a" stroke-width="0.8" opacity="0.6" fill="none"/>
<path d="M79.6,253.9h0.8M84.2,268.4h0.8M84.4,265.4h0.8M80.4,259.0h0.8M84.3,258.2h0.8M77.3,257.8h0.8M88.5,270.1h0.8M80.2,258.9h0.8M82.6,258.9h0.8M85.4,261.7h0.8M79.2,267.5h0.8M80.5,262.9h0.8M82.0,260.7h0.8M82.8,259.1h0.8M77.2,252.7h0.8M78.7,258.8h0.8M81.9,262.2h0.8M83.4,262.5h0.8M79.9,259.0h0.8M76.5,261.3h0.8M83.3,264.2h0.8M81.7,261.3h0.8M84.4,262.1h0.8M83.9,264.4h0.8M82.6,267.5h0.8M80.5,260.5h0.8M79.9,258.7h0.8M86.0,269.4h0.8M82.1,264.4h0.8M85.1,265.4h0.8M85.1,256.7h0.8M80.3,263.9h0.8M85.7,262.4h0.8M79.8,260.5h0.8M80.3,258.4h0.8M85.9,259.4h0.8M82.1,271.1h0.8M85.1,263.4h0.8M80.4,263.7h0.8M86.2,264.6h0.8M85.3,262.4h0.8M83.3,261.2h0.8M83.1,267.5h0.8M78.3,261.7h0.8M82.6,259.6h0.8M81.2,265.3h0.8M87.2,264.6h0.8M82.8,255.5h0.8M87.0,262.3h0.8M81.9,257.3h0.8M81.9,257.4h0.8M82.2,264.0h0.8M82.1,263.2h0.8M79.8,268.0h0.8M80.3,254.4h0.8M81.5,258.8h0.8M79.4,260.5h0.8M82.8,257.0h0.8M81.6,268.0h0.8M83.8,261.4h0.8M82.3,261.5h0.8M81.9,265.1h0.8M81.8,251.9h0.8M81.9,258.3h0.8M83.7,259.4h0.8M82.4,271.1h0.8M79.3,257.3h0.8M78.3,251.9h0.8M77.1,263.5h0.8M80.3,254.2h0.8M78.1,264.6h0.8M80.0,260.5h0.8M82.9,267.7h0.8M87.0,266.3h0.8M82.4,262.8h0.8M86.7,268.0h0.8M81.2,263.9h0.8M82.7,262.2h0.8M80.7,256.4h0.8M80.6,255.5h0.8M85.2,264.3h0.8M78.9,267.9h0.8M84.3,254.0h0.8M86.8,265.4h0.8M87.4,256.8h0.8M83.4,263.8h0.8M82.5,262.7h0.8M84.7,255.7h0.8M78.8,256.1h0.8M80.6,259.5h0.8" stroke="#58b4ea" stroke-width="0.8" opacity="0.75" fill="none"/>
<rect x="51.5" y="224" width="51.0" height="46" fill="none" stroke="#9a9a9a" stroke-width="0.8"/>
<path d="M51.81,270v2.3M53.41,270v2.3M54.65,270v2.3M55.66,270v2.3M56.52,270v2.3M57.26,270v2.3M57.91,270v2.3M58.50,270v3.0M62.35,270v2.3M64.61,270v2.3M66.21,270v2.3M67.45,270v2.3M68.46,270v2.3M69.32,270v2.3M70.06,270v2.3M70.71,270v2.3M71.30,270v3.0M75.15,270v2.3M77.41,270v2.3M79.01,270v2.3M80.25,270v2.3M81.26,270v2.3M82.12,270v2.3M82.86,270v2.3M83.51,270v2.3M84.10,270v3.0M87.95,270v2.3M90.21,270v2.3M91.81,270v2.3M93.05,270v2.3M94.06,270v2.3M94.92,270v2.3M95.66,270v2.3M96.31,270v2.3M96.90,270v3.0M100.75,270v2.3" stroke="#111" stroke-width="0.75" fill="none"/>
<path d="M51.5,225.01h-2.3M51.5,228.50h-3.0M51.5,236.61h-2.3M51.5,234.57h-2.3M51.5,233.12h-2.3M51.5,231.99h-2.3M51.5,231.07h-2.3M51.5,230.30h-2.3M51.5,229.62h-2.3M51.5,229.03h-2.3M51.5,240.10h-3.0M51.5,248.21h-2.3M51.5,246.17h-2.3M51.5,244.72h-2.3M51.5,243.59h-2.3M51.5,242.67h-2.3M51.5,241.90h-2.3M51.5,241.22h-2.3M51.5,240.63h-2.3M51.5,251.70h-3.0M51.5,259.81h-2.3M51.5,257.77h-2.3M51.5,256.32h-2.3M51.5,255.19h-2.3M51.5,254.27h-2.3M51.5,253.50h-2.3M51.5,252.82h-2.3M51.5,252.23h-2.3M51.5,263.30h-3.0M51.5,269.37h-2.3M51.5,267.92h-2.3M51.5,266.79h-2.3M51.5,265.87h-2.3M51.5,265.10h-2.3M51.5,264.42h-2.3M51.5,263.83h-2.3" stroke="#111" stroke-width="0.75" fill="none"/>
<rect x="51.8" y="236.4" width="20.10000000000001" height="18.099999999999994" fill="none" stroke="#6a6a6a" stroke-width="1.0"/>
<rect x="75.6" y="251.8" width="18.10000000000001" height="18.19999999999999" fill="none" stroke="#4a4a4a" stroke-width="1.0"/>
<text x="89.5" y="237.6" font-size="7.8" text-anchor="middle" fill="#222" textLength="12.9" lengthAdjust="spacingAndGlyphs" stroke="#222" stroke-width="0.26">CD4</text>
<text x="89.5" y="246.29999999999998" font-size="7.8" text-anchor="middle" fill="#222" textLength="12.9" lengthAdjust="spacingAndGlyphs" stroke="#222" stroke-width="0.26">CD8</text>
<path d="M149.9,238.9h0.9M149.3,236.8h0.9M148.3,240.4h0.9M150.7,238.5h0.9M148.6,241.7h0.9M148.0,239.7h0.9M151.5,237.7h0.9M150.9,235.8h0.9M151.2,238.7h0.9M146.0,239.8h0.9M147.4,241.1h0.9M147.8,237.9h0.9M149.8,237.6h0.9M149.7,237.1h0.9M150.5,238.3h0.9M149.6,232.2h0.9M151.5,238.4h0.9M145.6,238.5h0.9M150.1,240.7h0.9M147.0,241.7h0.9M148.9,243.6h0.9M148.9,239.8h0.9M148.5,235.8h0.9M151.4,240.3h0.9M152.3,240.2h0.9M148.1,234.6h0.9M147.9,236.8h0.9M147.6,239.6h0.9M149.9,237.7h0.9M149.5,238.0h0.9M149.6,240.0h0.9M151.1,236.8h0.9M146.2,241.4h0.9M149.4,240.7h0.9M145.9,237.6h0.9M149.3,235.1h0.9M148.2,239.9h0.9M151.4,241.8h0.9M147.5,235.2h0.9M150.2,240.4h0.9M149.6,235.4h0.9M150.8,240.0h0.9M150.3,237.2h0.9M149.8,240.0h0.9M148.1,234.2h0.9M149.9,239.4h0.9M149.2,240.3h0.9M148.0,238.1h0.9M148.6,239.6h0.9M152.4,237.7h0.9M153.3,241.7h0.9M150.8,239.6h0.9M152.7,237.9h0.9M149.0,236.0h0.9M150.1,241.3h0.9M150.3,239.2h0.9M148.8,238.7h0.9M146.3,240.6h0.9M148.4,235.9h0.9M147.7,236.5h0.9M150.9,240.6h0.9M146.5,240.3h0.9M151.0,237.0h0.9M146.2,236.7h0.9M147.9,239.1h0.9M148.5,233.8h0.9M149.7,234.9h0.9M151.0,235.6h0.9M147.8,236.4h0.9M148.1,241.2h0.9M150.9,239.6h0.9M149.8,234.9h0.9M148.2,237.1h0.9M147.2,239.4h0.9M147.7,236.7h0.9M147.1,233.8h0.9M150.4,241.2h0.9M149.5,236.2h0.9M143.8,238.7h0.9M151.6,239.0h0.9M151.1,241.6h0.9M151.5,237.3h0.9M151.3,240.0h0.9M146.1,237.4h0.9M146.4,238.1h0.9M150.4,236.0h0.9M145.1,241.2h0.9M150.0,241.5h0.9M146.6,240.6h0.9M153.3,242.7h0.9M148.8,238.9h0.9M148.9,240.5h0.9M151.3,238.5h0.9M146.5,239.9h0.9M148.3,239.7h0.9M149.7,241.9h0.9M151.5,237.3h0.9M149.9,242.2h0.9M148.1,239.3h0.9M151.6,241.1h0.9M150.2,235.4h0.9M146.7,238.8h0.9M150.0,243.9h0.9M147.5,240.8h0.9M150.7,234.6h0.9M147.6,238.7h0.9M148.2,238.0h0.9M150.1,236.5h0.9M150.1,236.9h0.9M148.1,239.5h0.9M148.1,238.9h0.9M152.4,238.4h0.9M148.9,239.9h0.9M148.5,240.7h0.9M146.6,239.7h0.9M148.2,236.5h0.9M152.7,236.4h0.9M152.7,239.7h0.9M152.1,236.2h0.9M151.6,241.5h0.9M149.0,238.0h0.9M154.1,238.7h0.9M148.4,236.9h0.9M150.1,239.0h0.9M149.6,242.1h0.9M148.5,239.3h0.9M152.1,236.1h0.9M151.3,242.3h0.9M146.5,235.9h0.9M147.1,234.2h0.9M150.1,234.2h0.9M150.2,241.5h0.9M146.0,237.6h0.9M145.4,240.0h0.9M147.7,237.7h0.9M149.3,239.5h0.9M148.5,238.3h0.9M148.1,238.6h0.9M146.9,238.4h0.9M145.3,237.2h0.9M153.0,238.5h0.9M146.7,238.9h0.9M147.3,234.7h0.9M147.7,239.9h0.9M150.0,238.1h0.9M147.3,235.9h0.9M151.9,238.8h0.9M147.3,233.7h0.9M146.5,243.7h0.9M146.9,238.1h0.9M149.6,238.0h0.9M148.6,235.3h0.9M147.1,242.0h0.9M147.7,240.2h0.9M145.8,237.7h0.9M149.7,240.6h0.9M147.0,239.6h0.9M150.0,236.7h0.9M150.2,236.3h0.9M147.6,238.3h0.9" stroke="#1b3cf0" stroke-width="0.9" opacity="0.85" fill="none"/>
<path d="M139.2,238.5h0.8M145.4,232.9h0.8M147.5,242.2h0.8M147.5,244.3h0.8M144.8,233.5h0.8M154.6,240.7h0.8M152.4,235.5h0.8M151.9,240.1h0.8M151.3,239.1h0.8M153.3,236.3h0.8M145.5,232.8h0.8M153.2,235.9h0.8M145.2,235.1h0.8M147.4,233.7h0.8M148.0,236.4h0.8M147.0,235.0h0.8M149.1,237.1h0.8M149.4,240.0h0.8M150.2,229.8h0.8M147.1,235.7h0.8M151.8,232.4h0.8M146.4,237.8h0.8M147.8,243.2h0.8M147.4,243.1h0.8M143.7,231.4h0.8M153.4,240.8h0.8M150.8,239.5h0.8M150.7,233.9h0.8M152.4,236.8h0.8M152.5,239.4h0.8M141.9,233.6h0.8M153.1,238.4h0.8M147.6,240.0h0.8M147.5,236.7h0.8M149.4,239.6h0.8M154.5,239.2h0.8M155.8,246.6h0.8M155.2,243.5h0.8M149.5,239.6h0.8M148.5,235.9h0.8M148.8,236.3h0.8M154.9,241.2h0.8M147.4,231.0h0.8M148.8,237.3h0.8M145.1,234.2h0.8M140.9,241.4h0.8M148.8,249.8h0.8M148.9,238.4h0.8M154.2,239.6h0.8M149.6,237.4h0.8M146.8,245.3h0.8M152.6,246.2h0.8M147.7,239.1h0.8M145.8,243.1h0.8M144.0,241.4h0.8M152.9,244.9h0.8M145.6,243.6h0.8M146.4,235.8h0.8M144.2,243.9h0.8M154.9,236.5h0.8M146.3,237.6h0.8M158.0,243.2h0.8M147.0,231.5h0.8M146.6,244.0h0.8M155.7,237.9h0.8M146.5,236.9h0.8M142.2,242.8h0.8M145.1,243.5h0.8M142.9,233.7h0.8M150.0,235.8h0.8" stroke="#1b3cf0" stroke-width="0.8" opacity="0.6" fill="none"/>
<path d="M144.0,259.4h0.8M147.8,263.6h0.8M151.3,267.5h0.8M144.4,266.8h0.8M151.3,267.3h0.8M149.1,259.6h0.8M151.7,266.5h0.8M150.2,267.9h0.8M147.1,257.1h0.8M149.0,266.4h0.8M145.8,265.8h0.8M152.4,259.0h0.8M149.5,264.8h0.8M148.2,258.7h0.8M146.3,265.8h0.8M151.1,262.0h0.8M144.8,266.5h0.8M150.9,259.0h0.8M149.2,267.7h0.8M152.0,262.8h0.8" stroke="#58b4ea" stroke-width="0.8" opacity="0.6" fill="none"/>
<rect x="119.5" y="224" width="50.0" height="46" fill="none" stroke="#9a9a9a" stroke-width="0.8"/>
<path d="M119.81,270v2.3M121.41,270v2.3M122.65,270v2.3M123.66,270v2.3M124.52,270v2.3M125.26,270v2.3M125.91,270v2.3M126.50,270v3.0M130.35,270v2.3M132.61,270v2.3M134.21,270v2.3M135.45,270v2.3M136.46,270v2.3M137.32,270v2.3M138.06,270v2.3M138.71,270v2.3M139.30,270v3.0M143.15,270v2.3M145.41,270v2.3M147.01,270v2.3M148.25,270v2.3M149.26,270v2.3M150.12,270v2.3M150.86,270v2.3M151.51,270v2.3M152.10,270v3.0M155.95,270v2.3M158.21,270v2.3M159.81,270v2.3M161.05,270v2.3M162.06,270v2.3M162.92,270v2.3M163.66,270v2.3M164.31,270v2.3M164.90,270v3.0M168.75,270v2.3" stroke="#111" stroke-width="0.75" fill="none"/>
<path d="M119.5,225.01h-2.3M119.5,228.50h-3.0M119.5,236.61h-2.3M119.5,234.57h-2.3M119.5,233.12h-2.3M119.5,231.99h-2.3M119.5,231.07h-2.3M119.5,230.30h-2.3M119.5,229.62h-2.3M119.5,229.03h-2.3M119.5,240.10h-3.0M119.5,248.21h-2.3M119.5,246.17h-2.3M119.5,244.72h-2.3M119.5,243.59h-2.3M119.5,242.67h-2.3M119.5,241.90h-2.3M119.5,241.22h-2.3M119.5,240.63h-2.3M119.5,251.70h-3.0M119.5,259.81h-2.3M119.5,257.77h-2.3M119.5,256.32h-2.3M119.5,255.19h-2.3M119.5,254.27h-2.3M119.5,253.50h-2.3M119.5,252.82h-2.3M119.5,252.23h-2.3M119.5,263.30h-3.0M119.5,269.37h-2.3M119.5,267.92h-2.3M119.5,266.79h-2.3M119.5,265.87h-2.3M119.5,265.10h-2.3M119.5,264.42h-2.3M119.5,263.83h-2.3" stroke="#111" stroke-width="0.75" fill="none"/>
<rect x="131.2" y="227.2" width="32.70000000000002" height="28.400000000000006" fill="none" stroke="#3a3a3a" stroke-width="1.1"/>
<text x="125.3" y="266" font-size="7.8" text-anchor="start" fill="#a8294f" textLength="13.9" lengthAdjust="spacingAndGlyphs" stroke="#a8294f" stroke-width="0.26">73%</text>
<path d="M205.4,242.2h0.9M208.8,244.2h0.9M209.7,248.2h0.9M206.5,246.1h0.9M206.1,244.7h0.9M208.7,242.4h0.9M210.4,241.1h0.9M210.7,245.6h0.9M208.6,238.4h0.9M206.6,238.6h0.9M207.9,241.1h0.9M214.9,244.4h0.9M210.0,236.9h0.9M206.7,239.6h0.9M208.7,236.0h0.9M211.8,238.4h0.9M210.7,229.5h0.9M208.3,242.6h0.9M208.7,244.2h0.9M208.9,242.0h0.9M204.1,237.6h0.9M203.1,244.3h0.9M209.0,240.2h0.9M206.5,238.3h0.9M212.4,249.9h0.9M208.2,247.6h0.9M204.8,231.5h0.9M207.2,236.8h0.9M207.1,242.1h0.9M215.0,237.9h0.9M208.4,242.6h0.9M208.2,245.9h0.9M212.2,235.0h0.9M208.7,239.9h0.9M209.1,233.5h0.9M204.4,229.6h0.9M209.5,242.2h0.9M208.5,229.4h0.9M207.5,237.4h0.9M205.2,236.6h0.9M209.8,243.9h0.9M208.3,243.8h0.9M207.0,241.6h0.9M208.4,244.0h0.9M208.1,240.5h0.9M208.0,238.0h0.9M213.2,243.8h0.9M209.2,252.7h0.9M211.4,233.4h0.9M209.8,245.4h0.9M212.4,247.8h0.9M210.0,235.3h0.9M206.4,242.5h0.9M209.4,236.1h0.9M207.5,239.2h0.9M208.4,242.9h0.9M207.7,235.0h0.9M211.0,249.2h0.9M208.1,246.3h0.9M209.3,244.5h0.9M209.4,237.4h0.9M209.6,246.3h0.9M206.3,251.0h0.9M212.9,250.3h0.9M212.7,244.9h0.9M207.6,238.2h0.9M206.5,241.8h0.9M208.2,244.6h0.9M203.9,252.8h0.9M213.3,241.1h0.9M209.8,243.6h0.9M208.9,240.2h0.9M208.0,237.1h0.9M208.7,241.1h0.9M209.0,236.9h0.9M208.4,241.4h0.9M209.6,235.9h0.9M209.2,246.1h0.9M209.6,239.4h0.9M207.2,240.0h0.9M209.9,249.0h0.9M208.0,238.0h0.9M209.1,242.2h0.9M206.3,237.5h0.9M208.1,244.6h0.9M205.7,236.1h0.9M209.4,235.1h0.9M208.5,243.0h0.9M208.1,236.1h0.9M208.2,239.5h0.9M209.0,237.0h0.9M210.7,232.8h0.9M207.9,241.2h0.9M210.4,238.2h0.9M209.5,238.4h0.9M209.9,249.9h0.9M207.4,243.4h0.9M206.3,246.1h0.9M211.0,241.4h0.9M205.8,243.2h0.9M210.8,246.6h0.9M210.1,232.0h0.9M206.8,248.3h0.9M205.6,246.9h0.9M212.4,245.0h0.9M210.8,239.5h0.9M205.6,240.7h0.9M207.9,241.0h0.9M209.8,240.5h0.9M208.7,243.3h0.9M208.3,250.4h0.9M209.3,241.6h0.9M207.8,238.1h0.9M211.3,242.0h0.9M205.9,238.4h0.9M208.0,239.0h0.9M210.7,235.4h0.9M209.4,241.9h0.9M205.7,241.4h0.9M208.1,243.7h0.9M207.3,242.7h0.9M204.6,235.8h0.9M210.0,246.4h0.9M208.3,238.2h0.9M210.7,230.7h0.9M206.5,244.6h0.9M209.7,236.0h0.9M204.1,248.5h0.9M208.6,236.7h0.9M208.4,245.7h0.9M202.6,246.8h0.9M209.9,230.8h0.9M210.0,232.3h0.9M210.8,243.2h0.9M213.3,238.1h0.9M208.3,246.4h0.9M206.9,237.7h0.9M207.5,240.8h0.9M205.9,243.6h0.9M209.5,241.6h0.9M212.0,239.6h0.9M211.2,238.5h0.9M210.0,231.5h0.9M208.7,240.3h0.9M207.2,238.1h0.9M207.5,237.6h0.9M203.5,238.2h0.9M207.1,238.6h0.9M206.0,240.5h0.9M210.0,239.9h0.9M207.2,248.0h0.9M210.4,245.8h0.9M210.8,239.6h0.9M208.0,246.8h0.9M207.1,240.6h0.9M209.1,243.1h0.9M207.7,246.1h0.9M207.9,244.8h0.9M210.7,244.5h0.9M209.9,235.4h0.9M205.4,238.1h0.9M209.3,248.7h0.9M205.6,242.7h0.9M206.4,237.5h0.9M207.7,244.7h0.9M208.8,247.1h0.9M206.1,245.6h0.9M210.3,241.5h0.9M209.3,238.4h0.9M205.9,239.2h0.9M206.9,255.7h0.9M207.2,249.5h0.9M208.7,242.8h0.9M209.9,237.3h0.9M210.3,243.1h0.9M205.0,244.2h0.9M209.5,243.5h0.9M211.8,239.1h0.9M209.4,244.9h0.9M206.3,247.2h0.9M205.1,234.7h0.9M209.4,235.8h0.9M208.0,233.0h0.9M208.5,235.5h0.9M209.1,233.5h0.9M209.3,239.9h0.9M208.4,240.9h0.9M208.6,234.6h0.9M202.7,241.4h0.9M206.2,238.9h0.9M209.2,231.3h0.9M206.6,238.1h0.9M206.0,242.8h0.9M208.0,237.1h0.9M206.1,245.2h0.9M206.8,244.1h0.9M209.3,231.7h0.9M205.9,241.2h0.9M209.1,245.1h0.9M210.1,246.4h0.9M207.5,240.1h0.9M210.0,239.1h0.9M210.6,233.3h0.9M209.7,240.3h0.9M204.0,246.1h0.9M209.0,241.3h0.9M205.9,238.9h0.9M211.6,237.1h0.9M200.7,236.9h0.9M205.7,240.5h0.9M207.4,236.6h0.9M206.4,246.4h0.9M205.1,251.0h0.9M207.1,235.7h0.9M210.0,244.0h0.9M206.0,244.9h0.9M204.3,236.6h0.9M210.8,239.9h0.9M205.4,243.8h0.9M210.3,241.1h0.9M204.3,239.5h0.9M209.2,245.0h0.9M212.4,239.9h0.9M207.2,241.0h0.9M211.0,236.5h0.9M211.2,227.5h0.9M210.1,237.8h0.9M209.3,244.6h0.9M205.7,240.8h0.9M208.8,244.1h0.9M206.3,236.2h0.9M204.1,253.9h0.9M207.9,240.1h0.9M205.0,245.8h0.9M207.1,248.4h0.9M210.2,241.3h0.9M209.9,235.6h0.9M207.6,238.3h0.9M205.5,241.3h0.9M208.0,248.4h0.9M200.9,237.8h0.9M206.3,238.9h0.9M209.2,243.2h0.9M208.4,238.8h0.9M209.4,243.0h0.9M204.2,239.9h0.9M205.3,235.3h0.9M208.6,241.5h0.9M208.6,236.8h0.9M207.9,236.6h0.9M209.1,244.6h0.9M212.2,247.5h0.9M206.5,238.9h0.9M206.2,242.7h0.9M212.7,244.7h0.9M203.5,234.9h0.9M205.5,243.8h0.9M208.3,242.7h0.9M212.2,237.1h0.9M206.4,251.0h0.9M209.1,237.3h0.9M203.8,233.6h0.9M202.9,241.5h0.9M208.4,246.2h0.9M208.0,237.7h0.9M206.7,250.7h0.9M204.4,242.1h0.9M208.4,244.3h0.9M207.4,243.7h0.9M210.1,240.5h0.9M207.3,240.3h0.9M206.2,240.2h0.9M207.6,242.3h0.9M211.2,247.7h0.9M207.3,244.2h0.9M208.9,245.0h0.9M208.3,242.5h0.9M207.3,237.3h0.9M210.2,247.7h0.9M209.8,243.4h0.9M208.9,238.9h0.9M204.4,244.5h0.9M208.7,238.4h0.9M206.2,247.6h0.9M204.3,250.0h0.9M209.7,253.1h0.9M206.7,241.1h0.9M207.2,242.0h0.9M207.8,237.5h0.9M210.7,237.3h0.9M207.2,244.0h0.9M207.1,239.0h0.9M209.1,239.4h0.9M205.6,240.7h0.9M207.8,249.7h0.9M205.9,246.0h0.9M206.6,239.4h0.9M207.6,242.6h0.9M210.2,249.9h0.9M206.9,247.8h0.9" stroke="#e02aa6" stroke-width="0.9" opacity="0.85" fill="none"/>
<path d="M205.9,263.3h0.8M207.9,262.5h0.8M207.4,256.9h0.8M207.5,258.9h0.8M206.0,265.3h0.8M207.3,261.2h0.8M212.3,266.1h0.8M212.1,267.2h0.8M206.1,259.6h0.8M205.2,264.8h0.8M210.3,260.6h0.8M208.3,264.6h0.8M210.6,259.2h0.8M211.8,260.6h0.8" stroke="#e0707a" stroke-width="0.8" opacity="0.6" fill="none"/>
<path d="M209.1,224.5h0.8M206.6,226.7h0.8M209.7,226.1h0.8M206.2,224.1h0.8M206.8,224.6h0.8" stroke="#e0707a" stroke-width="0.8" opacity="0.6" fill="none"/>
<rect x="186.4" y="224" width="50.400000000000006" height="46" fill="none" stroke="#9a9a9a" stroke-width="0.8"/>
<path d="M186.71,270v2.3M188.31,270v2.3M189.55,270v2.3M190.56,270v2.3M191.42,270v2.3M192.16,270v2.3M192.81,270v2.3M193.40,270v3.0M197.25,270v2.3M199.51,270v2.3M201.11,270v2.3M202.35,270v2.3M203.36,270v2.3M204.22,270v2.3M204.96,270v2.3M205.61,270v2.3M206.20,270v3.0M210.05,270v2.3M212.31,270v2.3M213.91,270v2.3M215.15,270v2.3M216.16,270v2.3M217.02,270v2.3M217.76,270v2.3M218.41,270v2.3M219.00,270v3.0M222.85,270v2.3M225.11,270v2.3M226.71,270v2.3M227.95,270v2.3M228.96,270v2.3M229.82,270v2.3M230.56,270v2.3M231.21,270v2.3M231.80,270v3.0M235.65,270v2.3" stroke="#111" stroke-width="0.75" fill="none"/>
<path d="M186.4,225.01h-2.3M186.4,228.50h-3.0M186.4,236.61h-2.3M186.4,234.57h-2.3M186.4,233.12h-2.3M186.4,231.99h-2.3M186.4,231.07h-2.3M186.4,230.30h-2.3M186.4,229.62h-2.3M186.4,229.03h-2.3M186.4,240.10h-3.0M186.4,248.21h-2.3M186.4,246.17h-2.3M186.4,244.72h-2.3M186.4,243.59h-2.3M186.4,242.67h-2.3M186.4,241.90h-2.3M186.4,241.22h-2.3M186.4,240.63h-2.3M186.4,251.70h-3.0M186.4,259.81h-2.3M186.4,257.77h-2.3M186.4,256.32h-2.3M186.4,255.19h-2.3M186.4,254.27h-2.3M186.4,253.50h-2.3M186.4,252.82h-2.3M186.4,252.23h-2.3M186.4,263.30h-3.0M186.4,269.37h-2.3M186.4,267.92h-2.3M186.4,266.79h-2.3M186.4,265.87h-2.3M186.4,265.10h-2.3M186.4,264.42h-2.3M186.4,263.83h-2.3" stroke="#111" stroke-width="0.75" fill="none"/>
<rect x="193.3" y="228" width="32.599999999999994" height="26.80000000000001" fill="none" stroke="#3a3a3a" stroke-width="1.1"/>
<text x="192" y="265.5" font-size="7.8" text-anchor="start" fill="#a8294f" textLength="13.4" lengthAdjust="spacingAndGlyphs" stroke="#a8294f" stroke-width="0.26">72%</text>
<rect x="51.8" y="334.6" width="9.2" height="13.4" fill="#e8941f" opacity="0.95"/>
<path d="M54.2,343.6h1.0M51.9,344.6h1.0M59.0,346.2h1.0M62.7,340.9h1.0M60.4,345.3h1.0M55.9,339.1h1.0M54.7,348.0h1.0M62.6,337.7h1.0M54.0,347.7h1.0M63.0,340.3h1.0M51.9,345.4h1.0M52.3,337.4h1.0M53.2,335.4h1.0M61.0,347.3h1.0M60.0,343.4h1.0M61.0,336.8h1.0M53.9,347.2h1.0M64.9,343.0h1.0M64.5,339.0h1.0M60.8,336.8h1.0M58.9,342.6h1.0M52.0,338.9h1.0M55.8,341.7h1.0M64.5,346.8h1.0M61.2,347.7h1.0M60.2,337.2h1.0M53.7,341.2h1.0M65.4,339.8h1.0M57.5,345.4h1.0M52.0,343.9h1.0M55.6,346.0h1.0M54.3,346.7h1.0M60.2,339.3h1.0M53.4,345.5h1.0M57.1,342.7h1.0M64.7,344.0h1.0M54.1,335.9h1.0M52.6,341.0h1.0M54.5,337.0h1.0M57.6,337.9h1.0M52.8,339.4h1.0M58.4,342.5h1.0M61.3,336.8h1.0M52.4,344.8h1.0M54.9,345.9h1.0M52.0,344.9h1.0M53.0,338.8h1.0M56.1,347.0h1.0M54.4,342.4h1.0M54.9,346.4h1.0M52.1,347.9h1.0M65.8,338.1h1.0M52.1,338.6h1.0M65.6,341.0h1.0M52.3,342.1h1.0M55.9,346.1h1.0M57.5,348.0h1.0M64.3,339.7h1.0M58.9,335.1h1.0M59.3,345.3h1.0M53.5,346.7h1.0M51.9,337.7h1.0M62.7,344.7h1.0M52.9,339.8h1.0M62.8,335.2h1.0M52.8,337.5h1.0M62.5,338.2h1.0M54.5,346.2h1.0M62.4,344.4h1.0M55.0,341.2h1.0M55.0,336.8h1.0M53.5,347.7h1.0M57.9,340.0h1.0M62.3,338.8h1.0M64.0,334.9h1.0M56.7,341.9h1.0M52.7,344.7h1.0M58.1,347.3h1.0M59.9,346.4h1.0M56.0,334.5h1.0M52.2,347.7h1.0M55.9,346.1h1.0M60.5,348.0h1.0M62.7,336.4h1.0M61.7,343.0h1.0M53.9,339.5h1.0M57.0,343.0h1.0M54.6,342.8h1.0M59.5,336.9h1.0M64.0,346.4h1.0M54.1,342.7h1.0M57.8,344.1h1.0M53.0,347.3h1.0M54.4,342.5h1.0M65.4,335.5h1.0M63.2,334.4h1.0M65.2,340.1h1.0M62.2,347.5h1.0M59.7,340.3h1.0M54.1,340.9h1.0M65.0,342.2h1.0M59.2,344.7h1.0M54.7,335.9h1.0M51.9,346.1h1.0M59.7,342.7h1.0M52.2,339.5h1.0M55.0,340.7h1.0M55.6,341.5h1.0M57.8,343.4h1.0M52.3,346.2h1.0M63.7,341.2h1.0M52.3,336.3h1.0M53.6,347.2h1.0M57.3,345.3h1.0M56.7,341.1h1.0M53.3,340.8h1.0M52.3,341.7h1.0M58.2,347.3h1.0M55.5,347.4h1.0M55.9,336.3h1.0M57.6,338.6h1.0M61.2,347.0h1.0M65.8,338.5h1.0M52.3,336.8h1.0M55.3,346.3h1.0M65.2,341.0h1.0M61.5,346.7h1.0M61.5,347.5h1.0M53.4,343.7h1.0M51.8,340.5h1.0M53.2,344.7h1.0M60.2,343.0h1.0M63.7,340.1h1.0M63.4,341.0h1.0M64.3,336.1h1.0M52.8,338.2h1.0M54.6,337.9h1.0M59.8,336.9h1.0M52.4,343.7h1.0M60.8,334.9h1.0M60.5,347.7h1.0M58.5,347.1h1.0M57.6,337.2h1.0M52.3,335.2h1.0M59.7,345.3h1.0M53.0,342.7h1.0M62.7,340.7h1.0M52.3,347.9h1.0M52.3,337.3h1.0M52.9,341.1h1.0M54.0,339.1h1.0M55.1,346.6h1.0M63.4,341.3h1.0M59.9,337.2h1.0M64.9,347.9h1.0M54.6,346.6h1.0M56.8,336.1h1.0M62.0,347.7h1.0M52.9,337.0h1.0M59.8,343.4h1.0" stroke="#e8941f" stroke-width="1.0" opacity="0.85" fill="none"/>
<path d="M63.2,345.8h0.9M71.0,342.5h0.9M71.7,339.4h0.9M58.3,343.4h0.9M59.5,335.5h0.9M65.3,347.4h0.9M59.0,342.9h0.9M63.0,339.9h0.9M61.7,343.0h0.9M58.0,339.9h0.9M60.9,347.7h0.9M62.9,334.2h0.9M58.1,346.0h0.9M67.0,344.2h0.9M60.1,341.0h0.9M60.0,340.0h0.9M64.1,334.6h0.9M74.8,347.5h0.9M64.7,337.2h0.9M71.7,337.2h0.9M66.2,339.1h0.9M61.4,344.1h0.9M69.8,335.8h0.9M73.4,338.5h0.9M60.5,337.3h0.9M68.5,340.9h0.9M66.2,343.1h0.9M64.5,342.3h0.9M58.2,343.3h0.9M60.8,334.2h0.9M63.3,342.9h0.9M59.8,344.7h0.9M61.2,346.1h0.9M58.0,335.8h0.9M62.8,341.8h0.9M64.9,343.8h0.9M59.0,347.1h0.9M60.5,343.7h0.9M68.2,340.3h0.9M73.3,343.2h0.9M72.9,339.8h0.9M58.3,345.5h0.9M65.1,334.2h0.9M61.3,337.2h0.9M62.4,335.8h0.9M58.2,341.2h0.9M72.3,344.1h0.9M59.9,347.7h0.9M58.9,344.2h0.9M67.7,344.9h0.9M61.9,345.2h0.9M65.6,335.9h0.9M66.5,345.2h0.9M68.4,334.5h0.9M65.5,346.9h0.9M70.1,335.7h0.9M61.0,346.1h0.9M59.2,340.5h0.9M71.7,339.0h0.9M73.0,345.0h0.9M60.8,337.5h0.9M66.5,342.3h0.9M67.1,343.3h0.9M58.2,342.2h0.9M58.1,339.2h0.9M60.9,341.1h0.9M65.5,344.4h0.9M63.0,347.8h0.9M73.0,340.1h0.9M74.7,347.2h0.9M65.8,337.9h0.9M60.9,346.7h0.9M58.9,346.0h0.9M69.1,346.7h0.9M70.2,342.1h0.9M64.3,339.8h0.9M64.6,338.8h0.9M65.5,343.4h0.9M68.5,344.4h0.9M67.9,337.3h0.9M69.3,343.7h0.9M69.3,334.3h0.9M62.8,344.1h0.9M64.0,334.8h0.9M58.7,347.9h0.9M63.2,338.8h0.9M69.3,342.9h0.9M74.7,344.8h0.9M68.9,346.7h0.9M58.1,346.1h0.9M58.2,341.0h0.9M64.6,345.5h0.9M73.4,342.9h0.9M58.8,345.5h0.9M68.4,335.1h0.9M58.9,347.6h0.9M69.4,344.6h0.9M74.5,341.0h0.9M66.2,343.2h0.9M69.9,341.6h0.9M60.8,335.4h0.9M58.5,337.7h0.9M58.2,339.0h0.9M62.0,335.9h0.9M58.2,340.1h0.9M62.1,335.1h0.9M73.5,339.2h0.9M59.6,344.5h0.9M60.0,341.9h0.9M59.6,345.2h0.9" stroke="#e8941f" stroke-width="0.9" opacity="0.75" fill="none"/>
<path d="M78.2,330.1h0.8M67.2,333.9h0.8M65.2,329.3h0.8M63.8,332.5h0.8M80.9,325.9h0.8M78.0,332.1h0.8M66.8,326.6h0.8M71.7,332.8h0.8M63.9,330.5h0.8M74.3,328.0h0.8M73.9,332.7h0.8M65.0,332.7h0.8M68.6,331.6h0.8M80.7,325.0h0.8M80.7,333.9h0.8M67.1,323.3h0.8M62.7,333.7h0.8M60.2,333.0h0.8M63.6,331.1h0.8M62.3,324.9h0.8M76.4,324.0h0.8M68.1,333.1h0.8M77.2,332.7h0.8M83.5,323.4h0.8M65.6,331.7h0.8M76.5,323.4h0.8M72.1,325.5h0.8M70.3,324.2h0.8M60.5,333.9h0.8M67.6,332.7h0.8M62.9,328.4h0.8M63.3,327.7h0.8M64.3,330.5h0.8M63.6,331.1h0.8M72.0,324.2h0.8" stroke="#e8941f" stroke-width="0.8" opacity="0.6" fill="none"/>
<path d="M53.3,330.1h0.9M60.1,326.5h0.9M61.9,324.9h0.9M56.1,329.3h0.9M56.3,328.7h0.9M61.7,328.5h0.9M56.1,328.0h0.9M54.0,324.2h0.9M61.5,324.8h0.9M53.3,329.0h0.9M53.1,329.4h0.9M54.4,328.5h0.9M57.0,327.7h0.9M56.3,331.3h0.9M54.1,329.0h0.9M57.2,328.9h0.9M60.8,323.9h0.9M57.7,327.2h0.9M55.1,325.5h0.9M53.1,325.1h0.9M64.0,327.7h0.9M59.8,325.2h0.9M57.1,331.3h0.9M56.3,325.2h0.9M55.4,325.2h0.9M54.7,325.6h0.9M52.6,325.3h0.9M57.5,331.2h0.9M56.9,329.1h0.9M61.5,326.3h0.9M57.8,325.9h0.9M60.4,332.0h0.9M61.0,322.8h0.9M57.4,327.1h0.9M57.5,326.5h0.9M58.4,329.3h0.9M59.9,329.2h0.9M58.3,324.7h0.9M54.7,328.0h0.9M54.8,325.0h0.9M56.6,326.2h0.9M54.7,325.4h0.9M53.2,327.5h0.9M53.7,329.4h0.9M55.9,328.0h0.9M58.3,330.9h0.9M59.1,328.3h0.9M55.8,325.7h0.9M55.0,329.4h0.9M57.5,326.7h0.9M57.9,330.3h0.9M58.1,324.2h0.9M55.6,328.3h0.9M52.5,328.6h0.9M55.6,325.6h0.9M58.1,325.5h0.9M59.1,326.9h0.9M63.5,327.0h0.9M55.7,328.6h0.9M56.7,325.2h0.9M62.7,325.2h0.9M62.5,328.3h0.9M59.0,325.4h0.9M53.0,324.0h0.9M55.4,328.1h0.9M54.1,324.7h0.9M57.4,323.3h0.9M58.8,328.9h0.9M63.8,329.9h0.9M58.1,328.4h0.9M56.6,324.3h0.9M62.9,329.0h0.9M55.2,324.8h0.9M63.0,329.0h0.9M64.8,327.6h0.9M58.2,326.6h0.9M53.8,330.4h0.9M70.0,328.0h0.9M56.0,329.7h0.9M55.2,329.5h0.9M60.1,325.1h0.9M60.1,328.4h0.9M61.9,324.2h0.9M58.7,326.1h0.9M56.9,328.5h0.9M52.3,327.1h0.9M52.8,326.5h0.9M57.5,326.1h0.9M61.5,326.1h0.9M60.2,328.4h0.9M52.8,326.8h0.9M54.7,331.7h0.9M58.5,324.4h0.9M61.0,328.7h0.9M55.6,327.1h0.9M57.6,326.9h0.9M54.2,326.8h0.9M61.6,326.1h0.9M58.2,324.8h0.9M53.4,324.2h0.9M55.6,329.4h0.9M57.8,326.5h0.9M59.2,326.8h0.9M58.1,328.4h0.9M58.9,321.5h0.9M55.5,326.3h0.9M63.0,329.1h0.9M64.8,329.0h0.9M55.6,329.5h0.9M53.1,326.6h0.9M54.1,327.1h0.9M59.9,326.5h0.9M57.9,326.4h0.9M60.3,320.8h0.9M55.6,328.1h0.9M57.4,330.9h0.9M60.7,329.3h0.9M55.8,325.0h0.9M55.5,326.5h0.9M57.6,326.5h0.9M69.8,323.7h0.9M61.6,326.5h0.9M55.4,330.0h0.9M56.5,324.7h0.9M58.3,327.2h0.9M58.6,328.5h0.9M58.3,326.2h0.9M57.5,327.4h0.9M55.7,327.0h0.9M54.0,330.2h0.9M56.6,332.0h0.9M59.9,331.8h0.9M56.0,328.6h0.9M54.6,327.3h0.9M52.4,326.1h0.9M61.8,328.4h0.9M61.8,329.9h0.9M60.5,330.2h0.9M53.9,329.7h0.9M55.1,326.4h0.9M52.3,332.1h0.9M60.1,325.6h0.9M57.7,328.6h0.9M58.1,326.8h0.9M60.2,329.7h0.9M59.4,330.5h0.9M52.2,327.6h0.9M58.0,330.2h0.9M57.2,329.0h0.9M67.2,328.3h0.9M57.5,332.0h0.9M58.5,329.4h0.9M60.9,328.2h0.9M52.8,327.5h0.9M58.0,327.0h0.9M53.6,326.8h0.9M56.1,326.8h0.9M56.7,331.2h0.9M57.8,327.6h0.9M58.1,325.5h0.9M58.4,325.0h0.9M57.1,327.5h0.9M60.8,326.7h0.9M54.9,328.3h0.9M56.7,331.9h0.9M55.4,326.4h0.9M55.1,328.9h0.9M57.5,329.4h0.9M64.5,327.6h0.9M58.3,322.1h0.9M56.6,324.0h0.9M58.5,331.2h0.9M61.0,323.9h0.9M62.5,330.0h0.9M54.9,329.0h0.9M63.1,326.9h0.9M56.4,326.3h0.9M61.5,322.3h0.9M62.6,325.3h0.9M60.5,323.6h0.9M52.4,326.2h0.9M60.1,323.6h0.9M59.1,326.1h0.9M61.9,326.9h0.9M58.6,327.3h0.9M64.3,326.8h0.9M56.8,329.4h0.9M53.3,328.2h0.9M53.7,323.9h0.9M58.3,323.9h0.9" stroke="#e0707a" stroke-width="0.9" opacity="0.85" fill="none"/>
<path d="M69.6,321.6h0.8M58.0,332.0h0.8M63.0,321.3h0.8M56.8,326.3h0.8M67.1,322.3h0.8M52.2,328.1h0.8M52.3,331.9h0.8M66.6,329.1h0.8M62.0,328.5h0.8M56.7,331.3h0.8M57.1,321.1h0.8M62.3,330.6h0.8M53.0,330.8h0.8M64.1,328.7h0.8M63.2,322.0h0.8M53.4,324.6h0.8M52.5,321.6h0.8M54.3,330.8h0.8M70.0,329.8h0.8M54.9,320.0h0.8M62.1,319.9h0.8M57.8,327.9h0.8M69.9,327.8h0.8M70.7,331.4h0.8M67.0,331.6h0.8M60.4,332.2h0.8M54.2,318.7h0.8M58.9,321.9h0.8M55.3,329.9h0.8M53.2,327.0h0.8M67.7,327.7h0.8M57.5,319.1h0.8M68.4,325.0h0.8M52.9,325.8h0.8M58.7,318.3h0.8M57.2,325.1h0.8M62.6,329.6h0.8M60.3,324.8h0.8M68.8,327.9h0.8M57.2,317.8h0.8" stroke="#e0707a" stroke-width="0.8" opacity="0.6" fill="none"/>
<path d="M90.4,343.0h0.84M82.1,334.7h0.84M78.3,342.4h0.84M88.5,335.4h0.84M84.0,338.8h0.84M83.1,342.2h0.84M91.3,337.2h0.84M86.9,344.7h0.84M83.0,339.4h0.84M79.3,344.7h0.84M82.2,337.2h0.84M84.2,336.3h0.84M80.4,338.7h0.84M89.2,339.1h0.84M85.8,333.6h0.84M77.2,347.9h0.84M82.6,333.3h0.84M83.6,342.6h0.84M78.0,336.2h0.84M84.9,336.0h0.84M86.8,344.2h0.84M85.5,338.1h0.84M83.8,337.3h0.84M83.5,341.4h0.84M83.0,344.2h0.84M93.0,337.6h0.84M85.2,343.6h0.84M86.2,339.0h0.84M82.3,344.4h0.84M86.2,342.2h0.84M81.2,342.7h0.84M86.8,339.2h0.84M86.2,349.4h0.84M77.5,342.6h0.84M79.9,334.1h0.84M83.2,342.4h0.84M84.2,334.9h0.84M79.0,337.6h0.84M84.0,336.4h0.84M78.8,347.6h0.84M81.1,339.3h0.84M82.1,337.5h0.84M84.1,338.7h0.84M86.2,334.8h0.84M78.8,348.5h0.84M83.7,343.3h0.84M88.1,342.4h0.84M84.1,333.2h0.84M78.4,344.3h0.84M86.4,342.5h0.84M78.2,330.7h0.84M80.3,334.9h0.84M84.6,335.5h0.84M89.5,337.3h0.84M82.0,343.8h0.84M85.1,336.1h0.84M86.9,348.4h0.84M79.7,338.9h0.84M80.2,331.5h0.84M86.2,343.0h0.84M87.4,341.9h0.84M77.0,339.9h0.84M81.7,334.9h0.84M80.1,343.3h0.84M83.0,348.6h0.84M85.6,331.7h0.84M87.1,345.5h0.84M84.1,334.7h0.84M90.2,334.3h0.84M83.7,331.7h0.84M79.6,332.6h0.84M87.8,345.2h0.84M82.6,334.1h0.84M83.8,341.7h0.84M78.7,334.9h0.84M83.6,343.1h0.84M84.3,342.0h0.84M79.6,329.1h0.84M85.1,336.0h0.84M83.6,338.3h0.84M85.7,336.6h0.84M89.1,340.1h0.84M85.9,342.8h0.84M87.6,341.8h0.84M77.9,337.2h0.84M90.5,342.1h0.84M86.0,342.1h0.84M81.7,337.0h0.84M81.7,345.1h0.84M85.3,347.8h0.84M85.8,348.3h0.84M85.6,334.8h0.84M90.1,341.5h0.84M88.2,340.9h0.84M82.8,340.7h0.84M80.0,334.7h0.84M80.9,337.7h0.84M79.2,339.5h0.84M85.1,348.9h0.84M90.5,339.8h0.84M87.1,339.0h0.84M85.4,339.9h0.84M82.1,340.3h0.84M78.8,341.9h0.84M83.0,335.2h0.84M82.7,342.4h0.84M81.6,342.1h0.84M86.0,346.9h0.84M80.2,339.5h0.84M85.8,346.6h0.84M84.9,343.3h0.84M78.8,337.4h0.84M89.9,338.7h0.84M91.7,336.8h0.84M83.0,332.9h0.84M86.3,341.2h0.84M91.2,340.7h0.84M83.1,333.8h0.84M83.7,344.2h0.84M86.6,345.5h0.84M87.1,339.8h0.84M86.1,340.8h0.84M79.3,347.6h0.84M85.3,335.3h0.84M85.4,341.3h0.84M87.5,346.4h0.84M73.2,342.5h0.84M89.4,335.8h0.84M77.4,341.2h0.84M85.2,341.6h0.84M80.0,337.9h0.84M84.7,343.3h0.84M91.8,341.3h0.84M81.9,329.5h0.84M87.8,339.4h0.84M83.6,335.6h0.84M86.6,332.0h0.84M84.4,340.5h0.84M85.1,345.8h0.84M83.6,340.4h0.84M87.1,333.1h0.84M83.0,340.3h0.84M87.4,336.4h0.84M86.9,341.7h0.84M78.7,333.4h0.84M78.9,340.6h0.84M84.7,343.2h0.84M86.9,337.5h0.84M87.8,343.7h0.84M85.7,342.1h0.84M79.4,341.6h0.84M80.3,334.7h0.84M82.7,340.6h0.84M83.8,338.5h0.84M80.4,340.8h0.84M81.3,333.7h0.84M84.3,346.5h0.84M82.6,335.2h0.84M89.0,347.7h0.84M82.9,339.1h0.84M84.8,353.2h0.84M84.5,344.5h0.84M85.6,331.9h0.84M80.1,334.5h0.84M85.6,340.5h0.84M90.4,338.8h0.84M85.1,340.3h0.84M84.5,350.4h0.84M85.0,346.6h0.84M88.7,337.3h0.84M86.5,338.3h0.84M84.4,340.7h0.84M84.1,337.9h0.84M89.6,338.8h0.84M86.5,347.5h0.84M86.2,344.6h0.84M89.0,344.9h0.84M90.2,333.6h0.84M91.0,340.1h0.84M77.7,337.1h0.84M79.0,339.9h0.84M78.7,335.5h0.84M85.1,340.7h0.84M81.1,338.9h0.84M83.6,340.3h0.84M84.0,339.0h0.84M87.2,332.8h0.84M82.2,340.6h0.84M82.6,337.5h0.84M82.4,340.9h0.84M88.5,339.2h0.84M83.0,341.6h0.84M83.1,331.3h0.84M85.0,338.3h0.84M81.9,342.8h0.84M84.2,337.5h0.84M76.2,332.3h0.84M84.1,339.5h0.84M85.6,341.0h0.84M82.3,334.3h0.84M80.1,339.4h0.84M79.9,343.4h0.84M79.2,331.9h0.84M83.3,332.0h0.84M89.9,335.5h0.84M83.8,338.9h0.84M81.0,332.0h0.84M77.3,343.9h0.84M87.7,349.7h0.84M78.7,342.5h0.84M83.9,343.8h0.84M82.2,343.2h0.84M87.2,342.7h0.84M89.2,339.2h0.84M89.6,336.8h0.84M90.0,327.6h0.84M84.0,336.4h0.84M84.0,344.6h0.84M86.6,340.4h0.84M90.1,333.4h0.84M81.1,346.8h0.84M85.2,330.7h0.84M85.2,334.7h0.84M89.3,345.1h0.84M82.0,345.8h0.84M81.0,344.1h0.84M86.1,339.4h0.84M78.9,338.7h0.84M75.8,337.5h0.84M77.3,345.5h0.84M80.5,329.1h0.84M86.1,341.7h0.84M82.2,349.5h0.84M86.8,340.3h0.84M81.7,326.7h0.84M85.7,344.3h0.84M81.9,333.6h0.84M83.8,332.5h0.84M84.0,343.5h0.84M89.4,341.2h0.84M84.7,343.4h0.84M89.0,338.6h0.84M79.6,336.4h0.84M79.5,336.0h0.84M83.6,341.5h0.84M84.6,340.3h0.84M82.7,341.9h0.84M87.2,343.4h0.84M89.4,338.7h0.84M83.1,347.6h0.84M84.7,341.9h0.84M82.8,344.4h0.84M82.6,335.5h0.84M83.8,338.0h0.84M87.0,338.3h0.84M84.4,339.0h0.84M85.2,337.2h0.84M88.0,333.6h0.84M82.6,336.8h0.84M86.3,340.2h0.84M85.7,338.5h0.84M81.4,335.0h0.84M82.8,337.6h0.84M85.0,341.6h0.84M87.5,339.5h0.84M81.3,335.2h0.84M84.2,341.6h0.84M91.0,340.8h0.84M90.3,348.4h0.84M80.2,345.4h0.84M88.1,346.1h0.84M84.0,344.3h0.84M82.3,339.7h0.84M84.1,348.0h0.84M83.2,344.3h0.84M84.2,336.8h0.84M84.9,343.0h0.84M81.4,342.9h0.84M81.4,336.1h0.84M84.8,338.9h0.84M80.5,332.7h0.84M84.1,341.1h0.84M82.3,340.8h0.84M78.5,341.8h0.84M85.5,341.3h0.84M81.8,340.4h0.84M84.5,344.8h0.84M85.0,341.1h0.84M81.4,343.9h0.84M88.2,337.8h0.84M86.3,341.4h0.84M83.8,334.2h0.84M90.3,331.6h0.84M85.1,338.3h0.84M88.1,338.1h0.84M84.1,342.7h0.84M85.6,337.7h0.84M86.5,341.8h0.84M87.6,337.7h0.84M83.8,338.2h0.84M81.0,341.1h0.84M85.5,346.4h0.84M82.8,341.7h0.84M88.1,339.5h0.84M84.2,340.6h0.84M81.5,335.6h0.84M88.0,340.8h0.84M83.7,334.4h0.84M84.4,345.3h0.84M79.9,336.0h0.84M88.0,346.4h0.84M89.6,337.5h0.84M86.2,336.6h0.84M85.9,338.4h0.84M84.7,346.0h0.84M85.2,338.9h0.84M84.2,341.2h0.84M82.2,340.9h0.84M86.1,347.0h0.84M76.6,334.7h0.84" stroke="#58b4ea" stroke-width="0.84" opacity="0.8" fill="none"/>
<rect x="51.5" y="301" width="51.0" height="47" fill="none" stroke="#9a9a9a" stroke-width="0.8"/>
<path d="M51.81,348v2.3M53.41,348v2.3M54.65,348v2.3M55.66,348v2.3M56.52,348v2.3M57.26,348v2.3M57.91,348v2.3M58.50,348v3.0M62.35,348v2.3M64.61,348v2.3M66.21,348v2.3M67.45,348v2.3M68.46,348v2.3M69.32,348v2.3M70.06,348v2.3M70.71,348v2.3M71.30,348v3.0M75.15,348v2.3M77.41,348v2.3M79.01,348v2.3M80.25,348v2.3M81.26,348v2.3M82.12,348v2.3M82.86,348v2.3M83.51,348v2.3M84.10,348v3.0M87.95,348v2.3M90.21,348v2.3M91.81,348v2.3M93.05,348v2.3M94.06,348v2.3M94.92,348v2.3M95.66,348v2.3M96.31,348v2.3M96.90,348v3.0M100.75,348v2.3" stroke="#111" stroke-width="0.75" fill="none"/>
<path d="M51.5,302.01h-2.3M51.5,305.50h-3.0M51.5,313.61h-2.3M51.5,311.57h-2.3M51.5,310.12h-2.3M51.5,308.99h-2.3M51.5,308.07h-2.3M51.5,307.30h-2.3M51.5,306.62h-2.3M51.5,306.03h-2.3M51.5,317.10h-3.0M51.5,325.21h-2.3M51.5,323.17h-2.3M51.5,321.72h-2.3M51.5,320.59h-2.3M51.5,319.67h-2.3M51.5,318.90h-2.3M51.5,318.22h-2.3M51.5,317.63h-2.3M51.5,328.70h-3.0M51.5,336.81h-2.3M51.5,334.77h-2.3M51.5,333.32h-2.3M51.5,332.19h-2.3M51.5,331.27h-2.3M51.5,330.50h-2.3M51.5,329.82h-2.3M51.5,329.23h-2.3M51.5,340.30h-3.0M51.5,346.37h-2.3M51.5,344.92h-2.3M51.5,343.79h-2.3M51.5,342.87h-2.3M51.5,342.10h-2.3M51.5,341.42h-2.3M51.5,340.83h-2.3" stroke="#111" stroke-width="0.75" fill="none"/>
<rect x="51.8" y="314.29999999999995" width="20.10000000000001" height="18.100000000000023" fill="none" stroke="#6a6a6a" stroke-width="1.0"/>
<rect x="75.6" y="329.7" width="18.10000000000001" height="18.30000000000001" fill="none" stroke="#4a4a4a" stroke-width="1.0"/>
<text x="89.5" y="315.1" font-size="7.8" text-anchor="middle" fill="#222" textLength="12.9" lengthAdjust="spacingAndGlyphs" stroke="#222" stroke-width="0.26">CD4</text>
<text x="89.5" y="323.8" font-size="7.8" text-anchor="middle" fill="#222" textLength="12.9" lengthAdjust="spacingAndGlyphs" stroke="#222" stroke-width="0.26">CD8</text>
<path d="M143.5,309 Q144,306.5 148,306.8 Q151,305.8 154,306.8 Q157.5,307.5 157.3,311 Q157,316 152,318.5 Q148,320 145.5,319 Q143,316 143.5,309 Z" fill="#1b3cf0" opacity="0.95"/>
<path d="M145.6,315.3h1.0M158.7,313.1h1.0M150.4,316.1h1.0M141.3,311.9h1.0M148.2,311.0h1.0M151.2,310.6h1.0M154.0,312.5h1.0M151.4,320.6h1.0M148.4,315.4h1.0M147.0,316.5h1.0M153.4,312.9h1.0M153.5,317.6h1.0M154.9,312.5h1.0M149.8,316.0h1.0M144.7,310.6h1.0M151.7,314.3h1.0M156.6,318.1h1.0M151.2,313.9h1.0M145.3,311.9h1.0M150.9,311.8h1.0M150.2,314.4h1.0M146.6,310.7h1.0M143.7,316.1h1.0M146.2,307.1h1.0M152.7,311.8h1.0M153.4,311.3h1.0M157.6,314.8h1.0M150.5,312.9h1.0M149.3,315.1h1.0M157.1,311.2h1.0M146.1,314.4h1.0M153.8,307.8h1.0M147.5,309.3h1.0M152.0,314.1h1.0M147.4,308.9h1.0M152.4,306.0h1.0M152.3,312.0h1.0M156.8,315.6h1.0M147.9,311.6h1.0M149.0,310.2h1.0M150.3,315.5h1.0M144.6,311.8h1.0M155.3,314.8h1.0M147.1,310.0h1.0M147.0,307.4h1.0M154.1,312.7h1.0M147.5,308.0h1.0M148.6,310.9h1.0M156.1,311.1h1.0M150.4,315.9h1.0M152.4,311.9h1.0M142.3,316.9h1.0M152.1,311.1h1.0M149.7,309.5h1.0M146.8,307.8h1.0M151.8,314.1h1.0M150.6,315.0h1.0M151.9,312.9h1.0M146.9,314.4h1.0M154.2,314.5h1.0M154.4,311.0h1.0M146.5,316.4h1.0M147.9,313.3h1.0M149.3,312.6h1.0M149.0,310.8h1.0M143.7,318.5h1.0M150.7,306.5h1.0M146.8,309.0h1.0M152.0,317.6h1.0M149.1,314.8h1.0M152.1,308.6h1.0M154.3,307.2h1.0M148.0,311.4h1.0M154.4,312.9h1.0M149.6,310.0h1.0M150.3,312.6h1.0M152.6,316.9h1.0M152.6,312.6h1.0M149.5,317.5h1.0M150.7,312.4h1.0M156.3,317.4h1.0M152.0,312.2h1.0M147.8,315.8h1.0M148.4,315.5h1.0M147.2,312.8h1.0M151.4,313.0h1.0M150.8,313.7h1.0M146.0,309.0h1.0M149.5,318.1h1.0M149.6,309.6h1.0M147.7,312.6h1.0M154.2,310.7h1.0M152.0,313.1h1.0M148.7,309.5h1.0M149.5,310.2h1.0M151.9,307.0h1.0M154.0,314.9h1.0M152.0,317.2h1.0M152.1,307.2h1.0M150.2,313.9h1.0M147.6,309.0h1.0M151.5,314.1h1.0M148.5,311.7h1.0M148.2,310.7h1.0M149.8,315.9h1.0M144.3,311.4h1.0M155.7,313.5h1.0M150.5,315.1h1.0M146.5,308.7h1.0M144.2,307.9h1.0M150.9,315.2h1.0M148.5,310.4h1.0M151.4,314.4h1.0M150.9,306.6h1.0M150.9,309.9h1.0M147.7,317.2h1.0M154.6,314.0h1.0M151.0,313.0h1.0M147.9,312.3h1.0M156.7,309.8h1.0M147.7,313.0h1.0M153.1,315.1h1.0M146.6,312.1h1.0M149.1,308.7h1.0M150.3,311.0h1.0M153.2,313.8h1.0M147.3,312.8h1.0M148.8,310.5h1.0M148.3,315.8h1.0M148.6,307.2h1.0M147.3,315.0h1.0M157.5,309.2h1.0M148.8,311.5h1.0M145.1,313.8h1.0M149.8,313.4h1.0M157.8,311.7h1.0M152.8,315.1h1.0M147.8,310.7h1.0M155.5,314.7h1.0M150.5,309.1h1.0M153.1,314.1h1.0M157.7,317.1h1.0M152.8,313.3h1.0M150.2,310.8h1.0M151.1,313.3h1.0M152.3,315.9h1.0M151.1,310.8h1.0M152.8,317.3h1.0M147.1,313.8h1.0M151.9,314.2h1.0M151.8,312.2h1.0M149.6,317.7h1.0M156.1,308.1h1.0M141.1,313.9h1.0M147.6,310.9h1.0M144.4,313.6h1.0M149.8,310.8h1.0M153.1,320.1h1.0M155.2,316.2h1.0M148.6,314.5h1.0M149.9,316.1h1.0M152.0,312.4h1.0M151.9,310.3h1.0M152.8,317.2h1.0M148.7,314.2h1.0M144.2,315.4h1.0M153.1,309.3h1.0M156.1,312.9h1.0M143.9,308.2h1.0M153.1,311.7h1.0M153.9,307.7h1.0M149.7,315.5h1.0M147.6,314.6h1.0M148.7,313.6h1.0M151.1,319.4h1.0M145.7,314.9h1.0M154.6,309.0h1.0M150.3,319.7h1.0M149.2,307.2h1.0M151.1,310.2h1.0M148.0,309.9h1.0M151.0,311.1h1.0M146.8,311.8h1.0M151.4,309.8h1.0M153.9,307.3h1.0M151.4,311.3h1.0M155.5,310.5h1.0M147.7,308.3h1.0M156.9,314.4h1.0M146.2,311.5h1.0M146.7,317.2h1.0M151.5,306.2h1.0M150.7,315.3h1.0M150.0,314.0h1.0M149.6,313.1h1.0M150.7,310.3h1.0M151.2,313.0h1.0M149.9,310.4h1.0M146.5,313.3h1.0M148.1,316.7h1.0M153.2,310.3h1.0M154.7,309.4h1.0M147.2,318.5h1.0M148.5,311.8h1.0M144.2,309.4h1.0M145.9,312.1h1.0M143.6,315.8h1.0M148.8,310.6h1.0M147.8,314.8h1.0M155.4,311.2h1.0M155.6,317.5h1.0M154.7,313.4h1.0M144.8,314.6h1.0M148.6,313.1h1.0M143.4,311.6h1.0M150.8,309.6h1.0M151.0,317.7h1.0M150.8,310.4h1.0M158.4,305.8h1.0M146.8,313.8h1.0M150.9,315.1h1.0M147.2,317.1h1.0M151.8,316.2h1.0M144.7,312.5h1.0M155.6,318.8h1.0M154.6,312.5h1.0M150.6,310.5h1.0M153.9,310.3h1.0M150.4,306.1h1.0M144.7,318.0h1.0M150.2,313.2h1.0M142.3,312.4h1.0M157.3,307.8h1.0M141.7,312.0h1.0M148.1,311.8h1.0M145.6,308.3h1.0M145.7,314.5h1.0M149.8,315.1h1.0M146.2,314.3h1.0M148.4,312.8h1.0M153.3,312.6h1.0M148.8,307.3h1.0M150.2,315.0h1.0M147.8,312.3h1.0M143.8,308.3h1.0M151.4,316.6h1.0M148.9,307.3h1.0M148.7,307.6h1.0M149.0,318.5h1.0M151.1,312.0h1.0M153.7,311.3h1.0M151.2,313.1h1.0M151.6,307.9h1.0M152.5,315.3h1.0M146.8,317.2h1.0M150.1,314.6h1.0M152.0,315.3h1.0M147.7,310.7h1.0M151.3,314.4h1.0M152.0,313.6h1.0M148.3,316.0h1.0M151.7,315.8h1.0M141.0,315.7h1.0M141.4,313.2h1.0M147.6,312.9h1.0M148.3,311.5h1.0M150.7,313.6h1.0M147.2,314.2h1.0M147.0,313.9h1.0M148.7,309.5h1.0M154.1,317.7h1.0M149.6,312.3h1.0M153.4,308.3h1.0M146.9,316.1h1.0M153.2,310.9h1.0M147.2,313.6h1.0M145.0,310.9h1.0M152.1,314.9h1.0M153.8,308.0h1.0M145.4,309.9h1.0M145.4,319.0h1.0M146.5,311.5h1.0M150.7,313.9h1.0M155.2,309.1h1.0M153.1,313.0h1.0M145.8,313.0h1.0M145.0,317.6h1.0M147.4,315.7h1.0M154.6,310.5h1.0M146.8,312.9h1.0M146.3,315.4h1.0M150.6,310.1h1.0M147.6,314.8h1.0M144.8,317.9h1.0M147.2,311.9h1.0M146.7,317.7h1.0M152.9,316.6h1.0M152.3,312.8h1.0M156.1,314.6h1.0M151.6,314.3h1.0M152.6,313.4h1.0M149.4,307.4h1.0M157.4,308.4h1.0M142.3,310.2h1.0M156.9,316.4h1.0M147.8,313.3h1.0M149.9,306.2h1.0M148.8,313.4h1.0M154.2,308.7h1.0M141.9,307.5h1.0M151.2,312.8h1.0M150.5,313.0h1.0M148.7,308.1h1.0M151.6,313.7h1.0M152.1,316.5h1.0M143.6,319.3h1.0M146.7,313.8h1.0M149.9,314.8h1.0M149.4,310.6h1.0M150.9,314.2h1.0M146.5,316.7h1.0M154.1,313.9h1.0M149.6,311.7h1.0M144.1,314.6h1.0M146.5,310.9h1.0M153.6,309.6h1.0M148.1,315.2h1.0M156.7,310.3h1.0M154.0,310.4h1.0M151.4,314.0h1.0M145.9,315.8h1.0M156.5,312.7h1.0M151.0,308.7h1.0M156.4,312.7h1.0M145.4,314.9h1.0M144.7,310.3h1.0M142.3,316.9h1.0M158.0,310.5h1.0M147.6,310.7h1.0M148.0,314.3h1.0M155.3,309.3h1.0M151.6,306.7h1.0M155.5,312.2h1.0M147.5,317.4h1.0M149.6,316.9h1.0M153.9,317.8h1.0M147.1,312.7h1.0M151.3,311.9h1.0M155.5,310.2h1.0M153.6,316.9h1.0M143.0,309.4h1.0M146.7,310.8h1.0M151.4,311.9h1.0M150.3,311.0h1.0M149.7,314.1h1.0M152.7,310.0h1.0M149.6,310.1h1.0M149.4,307.9h1.0M153.4,314.6h1.0M149.6,310.3h1.0M148.4,310.4h1.0M144.4,317.7h1.0M145.8,314.4h1.0M152.2,307.5h1.0M143.1,314.2h1.0M142.8,317.1h1.0M148.2,312.8h1.0M150.0,310.7h1.0M149.5,311.5h1.0M154.5,312.2h1.0M149.9,310.8h1.0M147.7,310.1h1.0M150.0,318.4h1.0M154.0,313.3h1.0M156.0,315.7h1.0M150.7,312.0h1.0M146.0,313.3h1.0M148.9,307.4h1.0M145.4,318.7h1.0M150.8,314.1h1.0" stroke="#1b3cf0" stroke-width="1.0" opacity="0.85" fill="none"/>
<path d="M146.1,320.2h0.84M146.5,326.1h0.84M145.3,323.9h0.84M147.3,320.2h0.84M146.1,319.2h0.84M146.7,320.6h0.84M147.5,319.1h0.84M148.3,320.8h0.84M144.5,318.6h0.84M146.8,318.7h0.84M148.5,326.9h0.84M146.6,316.6h0.84M145.8,319.2h0.84M143.1,323.6h0.84M149.1,320.0h0.84M147.0,326.9h0.84M144.4,320.7h0.84M146.2,323.8h0.84M144.1,322.8h0.84M145.6,325.6h0.84M143.4,319.9h0.84M145.0,320.8h0.84M146.9,319.6h0.84M149.9,319.3h0.84M147.1,325.9h0.84M147.2,321.2h0.84M144.6,321.0h0.84M146.8,322.5h0.84M146.7,324.2h0.84M144.5,318.4h0.84M148.0,320.2h0.84M143.4,329.1h0.84M144.5,318.5h0.84M147.3,317.7h0.84M144.5,326.0h0.84M144.6,331.5h0.84M145.9,332.2h0.84M146.0,322.2h0.84M144.8,321.2h0.84M145.0,321.9h0.84M147.0,317.2h0.84M144.4,314.0h0.84M148.1,321.7h0.84M145.8,321.8h0.84M147.3,323.2h0.84M147.1,321.4h0.84M145.6,321.8h0.84M143.0,326.1h0.84M143.4,318.2h0.84M146.8,322.2h0.84M147.0,328.5h0.84M148.6,327.3h0.84M145.5,329.8h0.84M144.5,321.7h0.84M147.3,321.2h0.84M145.6,320.7h0.84M147.8,312.6h0.84M147.7,326.0h0.84M145.7,324.1h0.84M144.3,326.2h0.84M150.4,318.5h0.84M147.9,321.8h0.84M145.3,320.1h0.84M145.5,317.2h0.84M143.8,328.3h0.84M145.8,324.1h0.84M146.3,323.8h0.84M143.5,318.4h0.84M146.7,325.8h0.84M144.1,319.8h0.84M144.2,324.5h0.84M146.3,322.1h0.84M144.8,323.3h0.84M145.8,319.2h0.84M146.3,319.5h0.84M147.2,324.4h0.84M144.8,324.2h0.84M145.9,319.3h0.84M144.4,315.7h0.84M144.1,323.3h0.84M147.6,319.6h0.84M146.0,323.3h0.84M147.0,323.7h0.84M147.6,324.9h0.84M144.7,323.5h0.84M142.3,321.3h0.84M145.8,324.2h0.84M145.3,325.2h0.84M147.8,318.8h0.84M145.0,323.0h0.84" stroke="#1b3cf0" stroke-width="0.84" opacity="0.75" fill="none"/>
<path d="M143.5,337.3h0.8M153.2,343.1h0.8M144.9,342.9h0.8M143.7,341.6h0.8M147.0,337.1h0.8M151.9,343.9h0.8M149.1,337.8h0.8M151.0,340.8h0.8M150.9,337.0h0.8M153.8,336.0h0.8M145.7,340.4h0.8M145.4,337.0h0.8M151.2,346.9h0.8M147.0,338.9h0.8" stroke="#58b4ea" stroke-width="0.8" opacity="0.6" fill="none"/>
<rect x="119.5" y="301" width="50.0" height="47" fill="none" stroke="#9a9a9a" stroke-width="0.8"/>
<path d="M119.81,348v2.3M121.41,348v2.3M122.65,348v2.3M123.66,348v2.3M124.52,348v2.3M125.26,348v2.3M125.91,348v2.3M126.50,348v3.0M130.35,348v2.3M132.61,348v2.3M134.21,348v2.3M135.45,348v2.3M136.46,348v2.3M137.32,348v2.3M138.06,348v2.3M138.71,348v2.3M139.30,348v3.0M143.15,348v2.3M145.41,348v2.3M147.01,348v2.3M148.25,348v2.3M149.26,348v2.3M150.12,348v2.3M150.86,348v2.3M151.51,348v2.3M152.10,348v3.0M155.95,348v2.3M158.21,348v2.3M159.81,348v2.3M161.05,348v2.3M162.06,348v2.3M162.92,348v2.3M163.66,348v2.3M164.31,348v2.3M164.90,348v3.0M168.75,348v2.3" stroke="#111" stroke-width="0.75" fill="none"/>
<path d="M119.5,302.01h-2.3M119.5,305.50h-3.0M119.5,313.61h-2.3M119.5,311.57h-2.3M119.5,310.12h-2.3M119.5,308.99h-2.3M119.5,308.07h-2.3M119.5,307.30h-2.3M119.5,306.62h-2.3M119.5,306.03h-2.3M119.5,317.10h-3.0M119.5,325.21h-2.3M119.5,323.17h-2.3M119.5,321.72h-2.3M119.5,320.59h-2.3M119.5,319.67h-2.3M119.5,318.90h-2.3M119.5,318.22h-2.3M119.5,317.63h-2.3M119.5,328.70h-3.0M119.5,336.81h-2.3M119.5,334.77h-2.3M119.5,333.32h-2.3M119.5,332.19h-2.3M119.5,331.27h-2.3M119.5,330.50h-2.3M119.5,329.82h-2.3M119.5,329.23h-2.3M119.5,340.30h-3.0M119.5,346.37h-2.3M119.5,344.92h-2.3M119.5,343.79h-2.3M119.5,342.87h-2.3M119.5,342.10h-2.3M119.5,341.42h-2.3M119.5,340.83h-2.3" stroke="#111" stroke-width="0.75" fill="none"/>
<rect x="131" y="304.5" width="32.5" height="28.80000000000001" fill="none" stroke="#3a3a3a" stroke-width="1.1"/>
<text x="125.3" y="344.9" font-size="7.8" text-anchor="start" fill="#a8294f" textLength="13.9" lengthAdjust="spacingAndGlyphs" stroke="#a8294f" stroke-width="0.26">97%</text>
<path d="M207.4,313.8h0.9M205.1,321.6h0.9M206.9,318.3h0.9M211.0,319.8h0.9M213.8,316.3h0.9M210.6,320.6h0.9M206.6,317.2h0.9M206.8,311.7h0.9M208.9,313.0h0.9M212.4,313.1h0.9M206.8,317.5h0.9M206.9,317.3h0.9M206.7,309.6h0.9M202.2,310.3h0.9M212.0,319.3h0.9M208.6,314.6h0.9M207.8,318.6h0.9M204.7,312.8h0.9M206.0,323.5h0.9M205.6,323.1h0.9M207.0,331.2h0.9M208.0,317.2h0.9M211.6,321.5h0.9M210.5,311.4h0.9M211.0,325.7h0.9M207.9,314.5h0.9M205.5,322.3h0.9M208.9,317.0h0.9M205.1,325.4h0.9M210.4,316.9h0.9M211.9,312.1h0.9M210.4,311.8h0.9M211.7,315.6h0.9M211.3,314.8h0.9M209.2,322.9h0.9M205.9,317.5h0.9M206.1,321.4h0.9M206.7,315.1h0.9M207.7,323.1h0.9M205.6,316.9h0.9M207.4,314.1h0.9M206.2,316.2h0.9M208.7,309.0h0.9M208.8,310.8h0.9M208.2,328.9h0.9M205.8,316.7h0.9M207.6,322.1h0.9M207.0,307.7h0.9M204.2,317.9h0.9M208.8,322.5h0.9M206.9,320.5h0.9M205.5,323.7h0.9M208.0,313.5h0.9M208.6,326.1h0.9M206.1,310.6h0.9M205.7,311.0h0.9M208.1,318.8h0.9M207.8,318.0h0.9M211.2,315.5h0.9M205.1,305.1h0.9M208.8,313.5h0.9M207.6,319.1h0.9M209.4,308.8h0.9M205.8,317.4h0.9M207.8,323.0h0.9M206.9,306.3h0.9M211.1,308.5h0.9M205.8,319.0h0.9M205.6,329.9h0.9M208.8,319.8h0.9M207.1,328.5h0.9M209.5,313.3h0.9M211.3,308.2h0.9M206.7,318.5h0.9M208.5,312.0h0.9M212.2,324.7h0.9M205.9,318.9h0.9M206.6,314.8h0.9M210.7,317.7h0.9M207.9,317.5h0.9M205.3,323.3h0.9M206.3,323.8h0.9M207.1,314.6h0.9M211.9,318.0h0.9M206.6,314.2h0.9M209.7,326.7h0.9M209.7,315.0h0.9M205.4,313.5h0.9M207.9,318.3h0.9M206.6,323.7h0.9M205.8,313.3h0.9M209.4,319.5h0.9M207.2,322.0h0.9M204.7,325.5h0.9M213.7,327.2h0.9M208.5,327.2h0.9M208.3,323.9h0.9M207.7,318.0h0.9M209.5,307.9h0.9M207.7,325.9h0.9M200.9,319.0h0.9M210.5,318.7h0.9M208.7,324.2h0.9M209.0,307.2h0.9M205.8,315.5h0.9M208.6,314.7h0.9M207.9,325.7h0.9M200.9,323.0h0.9M210.5,320.1h0.9M208.2,317.3h0.9M209.1,318.3h0.9M206.4,321.1h0.9M206.1,316.8h0.9M207.3,311.0h0.9M209.7,316.6h0.9M205.3,316.6h0.9M204.8,324.5h0.9M209.5,327.3h0.9M206.8,320.7h0.9M205.8,312.6h0.9M208.0,319.1h0.9M210.5,315.6h0.9M211.0,322.0h0.9M206.0,316.1h0.9M205.9,325.8h0.9M206.8,321.6h0.9M210.5,315.7h0.9M207.0,318.8h0.9M206.3,310.4h0.9M205.8,318.8h0.9M208.7,326.1h0.9M203.6,319.6h0.9M205.3,323.0h0.9M209.9,317.7h0.9M211.9,315.1h0.9M206.9,311.6h0.9M206.6,317.6h0.9M209.9,323.6h0.9M207.5,313.2h0.9M207.4,314.8h0.9M207.0,314.9h0.9M206.0,316.7h0.9M206.9,316.1h0.9M204.8,317.8h0.9M209.6,320.3h0.9M206.8,311.1h0.9M205.0,310.9h0.9M206.6,315.4h0.9M203.8,320.5h0.9M204.4,313.5h0.9M206.4,321.3h0.9M212.8,315.2h0.9M207.5,315.0h0.9M207.7,316.1h0.9M214.3,311.4h0.9M207.9,312.9h0.9M209.1,314.3h0.9M209.6,311.4h0.9M213.4,318.1h0.9M203.8,320.6h0.9M207.0,311.1h0.9M209.3,314.3h0.9M210.0,314.2h0.9M210.4,317.8h0.9M209.1,317.8h0.9M207.3,315.1h0.9M209.3,320.6h0.9M207.2,328.5h0.9M212.4,311.1h0.9M210.9,316.6h0.9M208.8,313.0h0.9M212.3,312.8h0.9M208.0,313.3h0.9M213.0,323.4h0.9M204.9,314.7h0.9M209.1,314.8h0.9M207.3,311.5h0.9M208.8,311.4h0.9M210.3,329.3h0.9M207.4,325.4h0.9M209.1,313.6h0.9M207.3,312.1h0.9M208.5,320.6h0.9M210.5,315.6h0.9M205.3,316.6h0.9M212.3,318.4h0.9M208.0,306.4h0.9M207.1,319.8h0.9M205.9,323.9h0.9M206.8,312.6h0.9M206.8,316.5h0.9M210.7,314.1h0.9M203.8,316.6h0.9M209.5,324.9h0.9M205.4,324.6h0.9M209.9,319.3h0.9M206.3,312.5h0.9M205.8,321.8h0.9M208.7,322.5h0.9M212.7,317.1h0.9M208.1,326.8h0.9M205.0,314.7h0.9M207.3,315.1h0.9M208.6,312.7h0.9M211.1,310.1h0.9M206.2,308.4h0.9M204.8,320.0h0.9M209.7,316.0h0.9M210.3,320.2h0.9M206.8,316.8h0.9M209.1,327.3h0.9M207.1,318.9h0.9M209.5,323.2h0.9M209.2,322.5h0.9M205.6,315.7h0.9M203.4,316.8h0.9M213.9,318.3h0.9M208.4,318.4h0.9M208.6,310.3h0.9M206.5,316.1h0.9M208.6,312.6h0.9M207.9,313.3h0.9M205.0,313.7h0.9M206.2,321.3h0.9M211.5,320.0h0.9M207.7,314.2h0.9M204.3,314.4h0.9M212.0,322.9h0.9M208.8,315.8h0.9M208.2,319.2h0.9M208.2,319.2h0.9M206.3,317.3h0.9M207.3,322.5h0.9M205.2,323.6h0.9M208.0,314.5h0.9M208.3,317.7h0.9M207.6,319.2h0.9M206.8,308.4h0.9M209.9,316.9h0.9M212.3,319.0h0.9M203.3,323.3h0.9M206.5,319.8h0.9M213.7,322.6h0.9M205.5,316.6h0.9M204.3,320.4h0.9M209.6,311.8h0.9M209.3,321.8h0.9M210.2,313.6h0.9M206.5,311.4h0.9M205.0,318.6h0.9M208.3,323.6h0.9M208.9,315.4h0.9M204.7,324.9h0.9M208.6,316.9h0.9M205.7,311.7h0.9M209.8,312.1h0.9M209.6,320.2h0.9M207.3,308.8h0.9M209.2,324.2h0.9M206.2,310.7h0.9M210.9,317.8h0.9M206.7,323.2h0.9M207.5,319.3h0.9M207.2,313.2h0.9M208.7,312.7h0.9M203.8,314.3h0.9M211.2,322.6h0.9M213.5,322.1h0.9M212.2,318.3h0.9M207.1,319.4h0.9M205.9,320.8h0.9M207.1,318.4h0.9M206.1,316.4h0.9M210.6,316.0h0.9M206.5,318.5h0.9M210.4,316.1h0.9M205.3,309.2h0.9M204.9,322.4h0.9M208.0,319.5h0.9M210.8,318.5h0.9" stroke="#e02aa6" stroke-width="0.9" opacity="0.85" fill="none"/>
<path d="M219.2,336.6h0.8M209.7,343.9h0.8M206.1,336.0h0.8M211.4,339.5h0.8M220.6,345.7h0.8M205.2,341.3h0.8M209.2,334.4h0.8M209.8,345.9h0.8M206.7,341.6h0.8M215.6,334.8h0.8M220.3,335.4h0.8M206.6,343.3h0.8" stroke="#e0707a" stroke-width="0.8" opacity="0.6" fill="none"/>
<rect x="186.4" y="301" width="50.400000000000006" height="47" fill="none" stroke="#9a9a9a" stroke-width="0.8"/>
<path d="M186.71,348v2.3M188.31,348v2.3M189.55,348v2.3M190.56,348v2.3M191.42,348v2.3M192.16,348v2.3M192.81,348v2.3M193.40,348v3.0M197.25,348v2.3M199.51,348v2.3M201.11,348v2.3M202.35,348v2.3M203.36,348v2.3M204.22,348v2.3M204.96,348v2.3M205.61,348v2.3M206.20,348v3.0M210.05,348v2.3M212.31,348v2.3M213.91,348v2.3M215.15,348v2.3M216.16,348v2.3M217.02,348v2.3M217.76,348v2.3M218.41,348v2.3M219.00,348v3.0M222.85,348v2.3M225.11,348v2.3M226.71,348v2.3M227.95,348v2.3M228.96,348v2.3M229.82,348v2.3M230.56,348v2.3M231.21,348v2.3M231.80,348v3.0M235.65,348v2.3" stroke="#111" stroke-width="0.75" fill="none"/>
<path d="M186.4,302.01h-2.3M186.4,305.50h-3.0M186.4,313.61h-2.3M186.4,311.57h-2.3M186.4,310.12h-2.3M186.4,308.99h-2.3M186.4,308.07h-2.3M186.4,307.30h-2.3M186.4,306.62h-2.3M186.4,306.03h-2.3M186.4,317.10h-3.0M186.4,325.21h-2.3M186.4,323.17h-2.3M186.4,321.72h-2.3M186.4,320.59h-2.3M186.4,319.67h-2.3M186.4,318.90h-2.3M186.4,318.22h-2.3M186.4,317.63h-2.3M186.4,328.70h-3.0M186.4,336.81h-2.3M186.4,334.77h-2.3M186.4,333.32h-2.3M186.4,332.19h-2.3M186.4,331.27h-2.3M186.4,330.50h-2.3M186.4,329.82h-2.3M186.4,329.23h-2.3M186.4,340.30h-3.0M186.4,346.37h-2.3M186.4,344.92h-2.3M186.4,343.79h-2.3M186.4,342.87h-2.3M186.4,342.10h-2.3M186.4,341.42h-2.3M186.4,340.83h-2.3" stroke="#111" stroke-width="0.75" fill="none"/>
<rect x="193.3" y="304.8" width="32.599999999999994" height="27.599999999999966" fill="none" stroke="#3a3a3a" stroke-width="1.1"/>
<text x="192" y="345.7" font-size="7.8" text-anchor="start" fill="#a8294f" textLength="13.4" lengthAdjust="spacingAndGlyphs" stroke="#a8294f" stroke-width="0.26">90%</text>
<path d="M47.7,379.0 V397.8 H66.6" stroke="#4a4a4a" stroke-width="1.15" fill="none"/>
<path d="M47.7,374.0 L50.900000000000006,380.8 L47.7,379.3 L44.5,380.8 Z" fill="#0a0a0a"/>
<path d="M71.6,397.8 L64.8,394.8 L66.3,397.8 L64.8,400.8 Z" fill="#0a0a0a"/>
<path d="M118.4,379.2 V397.8 H136.9" stroke="#4a4a4a" stroke-width="1.15" fill="none"/>
<path d="M118.4,374.2 L121.60000000000001,381.0 L118.4,379.5 L115.2,381.0 Z" fill="#0a0a0a"/>
<path d="M141.9,397.8 L135.1,394.8 L136.6,397.8 L135.1,400.8 Z" fill="#0a0a0a"/>
<path d="M194.9,379.0 V397.8 H213.3" stroke="#4a4a4a" stroke-width="1.15" fill="none"/>
<path d="M194.9,374.0 L198.1,380.8 L194.9,379.3 L191.70000000000002,380.8 Z" fill="#0a0a0a"/>
<path d="M218.3,397.8 L211.5,394.8 L213.0,397.8 L211.5,400.8 Z" fill="#0a0a0a"/>
<text transform="translate(40.6,388.7) rotate(-90)" x="0" y="0" font-size="8.0" text-anchor="middle" fill="#222" textLength="13.1" lengthAdjust="spacingAndGlyphs" stroke="#222" stroke-width="0.26">CD4</text>
<text x="57.1" y="409.8" font-size="8.0" text-anchor="middle" fill="#222" textLength="13.4" lengthAdjust="spacingAndGlyphs" stroke="#222" stroke-width="0.26">CD8</text>
<text x="127.5" y="409.8" font-size="8.0" text-anchor="middle" fill="#222" textLength="13.9" lengthAdjust="spacingAndGlyphs" stroke="#222" stroke-width="0.26">CD8</text>
<text x="203.8" y="409.8" font-size="8.0" text-anchor="middle" fill="#222" textLength="13.8" lengthAdjust="spacingAndGlyphs" stroke="#222" stroke-width="0.26">CD4</text>
<text transform="translate(102.6,388.7) rotate(-90)" x="0" y="0" font-size="8.2" text-anchor="middle" fill="#222" textLength="13.1" lengthAdjust="spacingAndGlyphs" stroke="#222" stroke-width="0.26">CAR</text>
<text transform="translate(111.4,388.7) rotate(-90)" font-size="8.0" text-anchor="middle" fill="#222" stroke="#222" stroke-width="0.26" textLength="36.6" lengthAdjust="spacingAndGlyphs">(tetramer<tspan dy="-2.8" font-size="5.2">+</tspan><tspan dy="2.8">)</tspan></text>
<text transform="translate(179.0,388.7) rotate(-90)" x="0" y="0" font-size="8.2" text-anchor="middle" fill="#222" textLength="13.1" lengthAdjust="spacingAndGlyphs" stroke="#222" stroke-width="0.26">CAR</text>
<text transform="translate(187.7,388.7) rotate(-90)" font-size="8.0" text-anchor="middle" fill="#222" stroke="#222" stroke-width="0.26" textLength="36.6" lengthAdjust="spacingAndGlyphs">(tetramer<tspan dy="-2.8" font-size="5.2">+</tspan><tspan dy="2.8">)</tspan></text>
<text x="258.7" y="176.8" font-size="11" text-anchor="start" fill="#111" textLength="6.5" lengthAdjust="spacingAndGlyphs" stroke="#111" stroke-width="0.1">C</text>
<rect x="315" y="235.74" width="23.399999999999977" height="55.56" fill="#a5002c"/>
<line x1="326.7" y1="235.74060000000003" x2="326.7" y2="197.863" stroke="#333" stroke-width="0.9"/>
<line x1="325.2" y1="197.863" x2="328.2" y2="197.863" stroke="#333" stroke-width="0.9"/>
<rect x="357" y="258.83" width="23.399999999999977" height="32.47" fill="#2e4a7f"/>
<line x1="368.7" y1="258.8275" x2="368.7" y2="233.89700000000002" stroke="#333" stroke-width="0.9"/>
<line x1="367.2" y1="233.89700000000002" x2="370.2" y2="233.89700000000002" stroke="#333" stroke-width="0.9"/>
<line x1="305.5" y1="183.4" x2="305.5" y2="291.8" stroke="#111" stroke-width="1"/>
<line x1="305.0" y1="291.3" x2="390" y2="291.3" stroke="#111" stroke-width="1"/>
<line x1="302.5" y1="291.3" x2="305.5" y2="291.3" stroke="#111" stroke-width="0.9"/>
<text x="299.9" y="293.7" font-size="8.6" text-anchor="end" fill="#222" textLength="3.95" lengthAdjust="spacingAndGlyphs" stroke="#222" stroke-width="0.2">0</text>
<line x1="302.5" y1="270.35" x2="305.5" y2="270.35" stroke="#111" stroke-width="0.9"/>
<text x="299.9" y="272.75" font-size="8.6" text-anchor="end" fill="#222" textLength="7.9" lengthAdjust="spacingAndGlyphs" stroke="#222" stroke-width="0.2">50</text>
<line x1="302.5" y1="249.4" x2="305.5" y2="249.4" stroke="#111" stroke-width="0.9"/>
<text x="299.9" y="251.8" font-size="8.6" text-anchor="end" fill="#222" textLength="11.850000000000001" lengthAdjust="spacingAndGlyphs" stroke="#222" stroke-width="0.2">100</text>
<line x1="302.5" y1="228.45000000000002" x2="305.5" y2="228.45000000000002" stroke="#111" stroke-width="0.9"/>
<text x="299.9" y="230.85000000000002" font-size="8.6" text-anchor="end" fill="#222" textLength="11.850000000000001" lengthAdjust="spacingAndGlyphs" stroke="#222" stroke-width="0.2">150</text>
<line x1="302.5" y1="207.5" x2="305.5" y2="207.5" stroke="#111" stroke-width="0.9"/>
<text x="299.9" y="209.9" font-size="8.6" text-anchor="end" fill="#222" textLength="11.850000000000001" lengthAdjust="spacingAndGlyphs" stroke="#222" stroke-width="0.2">200</text>
<line x1="302.5" y1="186.55" x2="305.5" y2="186.55" stroke="#111" stroke-width="0.9"/>
<text x="299.9" y="188.95000000000002" font-size="8.6" text-anchor="end" fill="#222" textLength="11.850000000000001" lengthAdjust="spacingAndGlyphs" stroke="#222" stroke-width="0.2">250</text>
<text transform="translate(281.2,237.3) rotate(-90)" font-size="8.6" text-anchor="middle" fill="#111" stroke="#111" stroke-width="0.24" textLength="85.5" lengthAdjust="spacingAndGlyphs">Number of CD8<tspan dy="-3" font-size="5.2">+</tspan><tspan dy="3"> </tspan>cells</text>
<rect x="437.3" y="222.93" width="25.19999999999999" height="68.37" fill="#a5002c"/>
<line x1="449.9" y1="222.93060000000003" x2="449.9" y2="204.97500000000002" stroke="#333" stroke-width="0.9"/>
<line x1="448.4" y1="204.97500000000002" x2="451.4" y2="204.97500000000002" stroke="#333" stroke-width="0.9"/>
<rect x="481.8" y="288.19" width="24.80000000000001" height="3.11" fill="#2e4a7f"/>
<line x1="494.20000000000005" y1="288.1923" x2="494.20000000000005" y2="270.582" stroke="#333" stroke-width="0.9"/>
<line x1="492.70000000000005" y1="270.582" x2="495.70000000000005" y2="270.582" stroke="#333" stroke-width="0.9"/>
<line x1="427.4" y1="185.0" x2="427.4" y2="291.8" stroke="#111" stroke-width="1"/>
<line x1="426.9" y1="291.3" x2="511.3" y2="291.3" stroke="#111" stroke-width="1"/>
<line x1="424.4" y1="291.3" x2="427.4" y2="291.3" stroke="#111" stroke-width="0.9"/>
<text x="421.9" y="293.7" font-size="8.6" text-anchor="end" fill="#222" textLength="3.95" lengthAdjust="spacingAndGlyphs" stroke="#222" stroke-width="0.2">0</text>
<line x1="424.4" y1="274.035" x2="427.4" y2="274.035" stroke="#111" stroke-width="0.9"/>
<text x="421.9" y="276.435" font-size="8.6" text-anchor="end" fill="#222" textLength="3.95" lengthAdjust="spacingAndGlyphs" stroke="#222" stroke-width="0.2">5</text>
<line x1="424.4" y1="256.77" x2="427.4" y2="256.77" stroke="#111" stroke-width="0.9"/>
<text x="421.9" y="259.16999999999996" font-size="8.6" text-anchor="end" fill="#222" textLength="7.9" lengthAdjust="spacingAndGlyphs" stroke="#222" stroke-width="0.2">10</text>
<line x1="424.4" y1="239.50500000000002" x2="427.4" y2="239.50500000000002" stroke="#111" stroke-width="0.9"/>
<text x="421.9" y="241.90500000000003" font-size="8.6" text-anchor="end" fill="#222" textLength="7.9" lengthAdjust="spacingAndGlyphs" stroke="#222" stroke-width="0.2">15</text>
<line x1="424.4" y1="222.24" x2="427.4" y2="222.24" stroke="#111" stroke-width="0.9"/>
<text x="421.9" y="224.64000000000001" font-size="8.6" text-anchor="end" fill="#222" textLength="7.9" lengthAdjust="spacingAndGlyphs" stroke="#222" stroke-width="0.2">20</text>
<line x1="424.4" y1="204.97500000000002" x2="427.4" y2="204.97500000000002" stroke="#111" stroke-width="0.9"/>
<text x="421.9" y="207.37500000000003" font-size="8.6" text-anchor="end" fill="#222" textLength="7.9" lengthAdjust="spacingAndGlyphs" stroke="#222" stroke-width="0.2">25</text>
<line x1="424.4" y1="187.71000000000004" x2="427.4" y2="187.71000000000004" stroke="#111" stroke-width="0.9"/>
<text x="421.9" y="190.11000000000004" font-size="8.6" text-anchor="end" fill="#222" textLength="7.9" lengthAdjust="spacingAndGlyphs" stroke="#222" stroke-width="0.2">30</text>
<text transform="translate(406.8,238.1) rotate(-90)" font-size="8.6" text-anchor="middle" fill="#111" stroke="#111" stroke-width="0.24" textLength="105.8" lengthAdjust="spacingAndGlyphs">Number of CD8<tspan dy="-3" font-size="5.2">+</tspan><tspan dy="3"> </tspan>Ki67<tspan dy="-3" font-size="5.2">+</tspan><tspan dy="3"> </tspan>cells</text>
<path d="M450.7,201.2 Q450.7,198.6 452.7,198.6 H471.55 L472.75,195.4 L473.95,198.6 H492.8 Q494.8,198.6 494.8,201.2" stroke="#222" stroke-width="1.1" fill="none"/>
<circle cx="471.25" cy="191.6" r="1.1" fill="#333"/>
<circle cx="474.25" cy="191.6" r="1.1" fill="#333"/>
<rect x="315.9" y="350.92" width="24.700000000000045" height="73.08" fill="#a5002c"/>
<line x1="328.25" y1="350.92" x2="328.25" y2="328.24" stroke="#333" stroke-width="0.9"/>
<line x1="326.75" y1="328.24" x2="329.75" y2="328.24" stroke="#333" stroke-width="0.9"/>
<rect x="360" y="416.44" width="24.30000000000001" height="7.56" fill="#2e4a7f"/>
<line x1="372.15" y1="416.44" x2="372.15" y2="405.94" stroke="#333" stroke-width="0.9"/>
<line x1="370.65" y1="405.94" x2="373.65" y2="405.94" stroke="#333" stroke-width="0.9"/>
<line x1="305.6" y1="316.8" x2="305.6" y2="424.5" stroke="#111" stroke-width="1"/>
<line x1="305.1" y1="424.0" x2="389.4" y2="424.0" stroke="#111" stroke-width="1"/>
<line x1="302.6" y1="424.0" x2="305.6" y2="424.0" stroke="#111" stroke-width="0.9"/>
<text x="299.5" y="426.4" font-size="8.6" text-anchor="end" fill="#222" textLength="3.95" lengthAdjust="spacingAndGlyphs" stroke="#222" stroke-width="0.2">0</text>
<line x1="302.6" y1="403.0" x2="305.6" y2="403.0" stroke="#111" stroke-width="0.9"/>
<text x="299.5" y="405.4" font-size="8.6" text-anchor="end" fill="#222" textLength="3.95" lengthAdjust="spacingAndGlyphs" stroke="#222" stroke-width="0.2">5</text>
<line x1="302.6" y1="382.0" x2="305.6" y2="382.0" stroke="#111" stroke-width="0.9"/>
<text x="299.5" y="384.4" font-size="8.6" text-anchor="end" fill="#222" textLength="7.9" lengthAdjust="spacingAndGlyphs" stroke="#222" stroke-width="0.2">10</text>
<line x1="302.6" y1="361.0" x2="305.6" y2="361.0" stroke="#111" stroke-width="0.9"/>
<text x="299.5" y="363.4" font-size="8.6" text-anchor="end" fill="#222" textLength="7.9" lengthAdjust="spacingAndGlyphs" stroke="#222" stroke-width="0.2">15</text>
<line x1="302.6" y1="340.0" x2="305.6" y2="340.0" stroke="#111" stroke-width="0.9"/>
<text x="299.5" y="342.4" font-size="8.6" text-anchor="end" fill="#222" textLength="7.9" lengthAdjust="spacingAndGlyphs" stroke="#222" stroke-width="0.2">20</text>
<line x1="302.6" y1="319.0" x2="305.6" y2="319.0" stroke="#111" stroke-width="0.9"/>
<text x="299.5" y="321.4" font-size="8.6" text-anchor="end" fill="#222" textLength="7.9" lengthAdjust="spacingAndGlyphs" stroke="#222" stroke-width="0.2">25</text>
<text transform="translate(275,370) rotate(-90)" font-size="8.6" text-anchor="middle" fill="#111" stroke="#111" stroke-width="0.24" textLength="81" lengthAdjust="spacingAndGlyphs">Percent of Ki67<tspan dy="-3" font-size="5.2">+</tspan><tspan dy="3"> </tspan>cells</text>
<text transform="translate(285.6,370) rotate(-90)" font-size="8.6" text-anchor="middle" fill="#111" stroke="#111" stroke-width="0.24" textLength="72" lengthAdjust="spacingAndGlyphs">within of CD8<tspan dy="-3" font-size="5.2">+</tspan><tspan dy="3"> </tspan>cells</text>
<path d="M328.2,323.6 Q328.2,321 330.2,321 H349.09999999999997 L350.29999999999995,317.8 L351.49999999999994,321 H370.4 Q372.4,321 372.4,323.6" stroke="#222" stroke-width="1.1" fill="none"/>
<circle cx="348.79999999999995" cy="314.0" r="1.1" fill="#333"/>
<circle cx="351.79999999999995" cy="314.0" r="1.1" fill="#333"/>
<rect x="404.1" y="360" width="15.9" height="8.8" fill="#a5002c"/>
<rect x="404.1" y="376" width="15.9" height="8.7" fill="#2e4a7f"/>
<text x="423.8" y="368.1" font-size="8.2" text-anchor="start" fill="#222" textLength="12.4" lengthAdjust="spacingAndGlyphs" stroke="#222" stroke-width="0.26">WT1</text>
<text x="436.6" y="369.9" font-size="5.6" text-anchor="start" fill="#222" textLength="10.3" lengthAdjust="spacingAndGlyphs" stroke="#222" stroke-width="0.26">236Y</text>
<text x="447.3" y="368.1" font-size="8.2" text-anchor="start" fill="#222" textLength="12.4" lengthAdjust="spacingAndGlyphs" stroke="#222" stroke-width="0.26">/DC</text>
<text x="423.8" y="383.9" font-size="8.2" text-anchor="start" fill="#222" textLength="28.5" lengthAdjust="spacingAndGlyphs" stroke="#222" stroke-width="0.26">MAGE-A4</text>
<text x="453.0" y="385.8" font-size="5.6" text-anchor="start" fill="#222" textLength="17.5" lengthAdjust="spacingAndGlyphs" stroke="#222" stroke-width="0.26">143-151</text>
<text x="470.9" y="383.9" font-size="8.2" text-anchor="start" fill="#222" textLength="12.1" lengthAdjust="spacingAndGlyphs" stroke="#222" stroke-width="0.26">/DC</text>
</svg></body></html>
